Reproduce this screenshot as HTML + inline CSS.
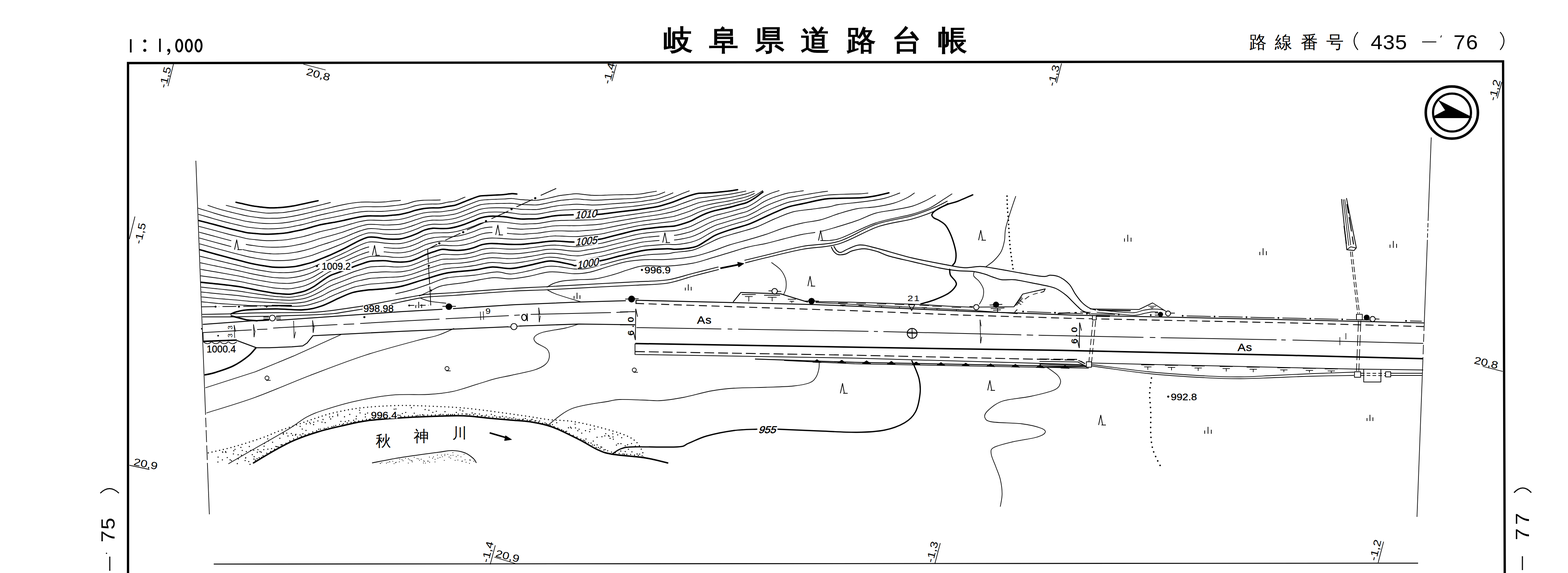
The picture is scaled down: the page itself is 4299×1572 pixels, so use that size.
<!DOCTYPE html>
<html><head><meta charset="utf-8"><title>map</title>
<style>html,body{margin:0;padding:0;background:#fff}svg{display:block}text{font-family:"Liberation Sans",sans-serif;fill:#000}</style>
</head><body>
<svg width="4299" height="1572" viewBox="0 0 4299 1572">
<rect width="4299" height="1572" fill="#fff"/>
<path d="M351.0 1580.0L351.0 173.0L4121.0 168.4L4125.6 1580.0" fill="none" stroke="#000" stroke-width="6.3" stroke-linejoin="miter"/>
<path d="M586.0 1547.5L3888.0 1545.0" fill="none" stroke="#000" stroke-width="2.6" stroke-linejoin="round"/>
<path d="M537.0 441.0L563.6 1138.0" fill="none" stroke="#000" stroke-width="1.8" stroke-linejoin="round"/>
<path d="M563.9 1146.0L564.9 1172.0" fill="none" stroke="#000" stroke-width="1.8" stroke-linejoin="round"/>
<path d="M565.2 1180.0L566.4 1213.0" fill="none" stroke="#000" stroke-width="1.8" stroke-linejoin="round"/>
<path d="M566.8 1222.0L568.3 1262.0" fill="none" stroke="#000" stroke-width="1.8" stroke-linejoin="round"/>
<path d="M568.6 1270.0L574.0 1411.0" fill="none" stroke="#000" stroke-width="1.8" stroke-linejoin="round"/>
<path d="M3924.0 377.0L3915.4 606.0" fill="none" stroke="#000" stroke-width="1.8" stroke-linejoin="round"/>
<path d="M3915.2 612.0L3914.7 624.0" fill="none" stroke="#000" stroke-width="1.8" stroke-linejoin="round"/>
<path d="M3914.6 628.0L3914.4 634.0" fill="none" stroke="#000" stroke-width="1.8" stroke-linejoin="round"/>
<path d="M3914.1 640.0L3913.7 652.0" fill="none" stroke="#000" stroke-width="1.8" stroke-linejoin="round"/>
<path d="M3913.5 658.0L3904.1 908.0" fill="none" stroke="#000" stroke-width="1.8" stroke-linejoin="round"/>
<path d="M3903.8 916.0L3903.0 938.0" fill="none" stroke="#000" stroke-width="1.8" stroke-linejoin="round"/>
<path d="M3902.7 946.0L3901.7 972.0" fill="none" stroke="#000" stroke-width="1.8" stroke-linejoin="round"/>
<path d="M3901.4 980.0L3885.0 1418.0" fill="none" stroke="#000" stroke-width="1.8" stroke-linejoin="round"/>
<path d="M358.5 107.5L358.5 144.0" fill="none" stroke="#000" stroke-width="4.6" stroke-linejoin="round"/>
<circle cx="397.0" cy="112.5" r="4.3" fill="#000" stroke="#000" stroke-width="0"/>
<circle cx="397.0" cy="138.0" r="4.3" fill="#000" stroke="#000" stroke-width="0"/>
<path d="M438.5 106.0L438.5 142.5" fill="none" stroke="#000" stroke-width="4.6" stroke-linejoin="round"/>
<circle cx="462.5" cy="138.0" r="4.2" fill="#000" stroke="#000" stroke-width="0"/>
<path d="M465.5 138 Q466 146 459.5 150" fill="none" stroke="#000" stroke-width="3" stroke-linejoin="round"/>
<ellipse cx="491.3" cy="125" rx="8.4" ry="16.3" fill="none" stroke="#000" stroke-width="5"/>
<ellipse cx="517.8" cy="125" rx="8.4" ry="16.3" fill="none" stroke="#000" stroke-width="5"/>
<ellipse cx="544.4" cy="125" rx="8.4" ry="16.3" fill="none" stroke="#000" stroke-width="5"/>
<text transform="translate(1819.0 136.5) scale(1 0.97)" font-family="'Liberation Sans','Noto Sans CJK JP',sans-serif" font-size="80" font-weight="bold" text-anchor="start">岐</text>
<text transform="translate(1944.4 136.5) scale(1 0.97)" font-family="'Liberation Sans','Noto Sans CJK JP',sans-serif" font-size="80" font-weight="bold" text-anchor="start">阜</text>
<text transform="translate(2069.8 136.5) scale(1 0.97)" font-family="'Liberation Sans','Noto Sans CJK JP',sans-serif" font-size="80" font-weight="bold" text-anchor="start">県</text>
<text transform="translate(2195.2 136.5) scale(1 0.97)" font-family="'Liberation Sans','Noto Sans CJK JP',sans-serif" font-size="80" font-weight="bold" text-anchor="start">道</text>
<text transform="translate(2320.6 136.5) scale(1 0.97)" font-family="'Liberation Sans','Noto Sans CJK JP',sans-serif" font-size="80" font-weight="bold" text-anchor="start">路</text>
<text transform="translate(2446.0 136.5) scale(1 0.97)" font-family="'Liberation Sans','Noto Sans CJK JP',sans-serif" font-size="80" font-weight="bold" text-anchor="start">台</text>
<text transform="translate(2571.4 136.5) scale(1 0.97)" font-family="'Liberation Sans','Noto Sans CJK JP',sans-serif" font-size="80" font-weight="bold" text-anchor="start">帳</text>
<text x="3425.0" y="131.5" font-family="'Liberation Sans','Noto Sans CJK JP',sans-serif" font-size="48" font-weight="500" text-anchor="start">路</text>
<text x="3495.3" y="131.5" font-family="'Liberation Sans','Noto Sans CJK JP',sans-serif" font-size="48" font-weight="500" text-anchor="start">線</text>
<text x="3565.6" y="131.5" font-family="'Liberation Sans','Noto Sans CJK JP',sans-serif" font-size="48" font-weight="500" text-anchor="start">番</text>
<text x="3635.9" y="131.5" font-family="'Liberation Sans','Noto Sans CJK JP',sans-serif" font-size="48" font-weight="500" text-anchor="start">号</text>
<path d="M3723 88 Q3702 112 3723 137" fill="none" stroke="#000" stroke-width="2.6" stroke-linejoin="round"/>
<path d="M4113 88 Q4134 112 4113 137" fill="none" stroke="#000" stroke-width="2.6" stroke-linejoin="round"/>
<text transform="translate(3758.0 134.5) scale(1.060 1)" font-family="Liberation Sans" font-size="55.0" font-weight="normal" text-anchor="start" letter-spacing="1">435</text>
<path d="M3899.0 115.0L3938.0 115.0" fill="none" stroke="#000" stroke-width="2.6" stroke-linejoin="round"/>
<path d="M3952.0 97.0L3950.0 103.0" fill="none" stroke="#000" stroke-width="2.2" stroke-linejoin="round"/>
<text transform="translate(3985.0 134.5) scale(1.060 1)" font-family="Liberation Sans" font-size="55.0" font-weight="normal" text-anchor="start" letter-spacing="0">7</text>
<text transform="translate(4019.5 134.5) scale(1.060 1)" font-family="Liberation Sans" font-size="55.0" font-weight="normal" text-anchor="start" letter-spacing="0">6</text>
<circle cx="3980.5" cy="308.8" r="71.5" fill="none" stroke="#000" stroke-width="7"/>
<circle cx="3981.0" cy="308.8" r="52.0" fill="none" stroke="#000" stroke-width="6"/>
<path d="M3930.0 322.5L4033.0 322.5" fill="none" stroke="#000" stroke-width="3.2" stroke-linejoin="round"/>
<path d="M3943.8 275.0L4036.0 321.8L3931.0 322.5L3933.8 317.5L3962.5 302.5Z" fill="#000" stroke="#000" stroke-width="1" stroke-linejoin="round"/>
<text transform="translate(313.5 1488.0) rotate(-90.0) scale(1.130 1)" font-family="Liberation Sans" font-size="52.0" font-weight="normal" text-anchor="start" letter-spacing="0">7</text>
<text transform="translate(313.5 1453.0) rotate(-90.0) scale(1.130 1)" font-family="Liberation Sans" font-size="52.0" font-weight="normal" text-anchor="start" letter-spacing="0">5</text>
<path d="M275 1353 Q300 1328 326 1353" fill="none" stroke="#000" stroke-width="3.0" stroke-linejoin="round"/>
<path d="M301.0 1527.0L301.0 1566.0" fill="none" stroke="#000" stroke-width="3.0" stroke-linejoin="round"/>
<circle cx="292.0" cy="1518.0" r="1.8" fill="#000" stroke="#000" stroke-width="0"/>
<text transform="translate(4192.0 1482.0) rotate(-90.0) scale(1.130 1)" font-family="Liberation Sans" font-size="52.0" font-weight="normal" text-anchor="start" letter-spacing="0">7</text>
<text transform="translate(4192.0 1440.0) rotate(-90.0) scale(1.130 1)" font-family="Liberation Sans" font-size="52.0" font-weight="normal" text-anchor="start" letter-spacing="0">7</text>
<path d="M4151 1351.6 Q4175 1326 4198.4 1351.6" fill="none" stroke="#000" stroke-width="3.0" stroke-linejoin="round"/>
<path d="M4174.0 1526.0L4174.0 1564.0" fill="none" stroke="#000" stroke-width="3.0" stroke-linejoin="round"/>
<path d="M475.6 176.0L460.6 236.4" fill="none" stroke="#000" stroke-width="1.8" stroke-linejoin="round"/>
<text transform="translate(455.0 243.0) rotate(-76.0) scale(1.220 1)" font-family="Liberation Sans" font-size="28.0" font-weight="normal" text-anchor="start" letter-spacing="0">-1,5</text>
<path d="M831.7 176.0L892.8 192.0" fill="none" stroke="#000" stroke-width="1.8" stroke-linejoin="round"/>
<text transform="translate(838.0 205.0) rotate(15.0) scale(1.220 1)" font-family="Liberation Sans" font-size="28.0" font-weight="normal" text-anchor="start" letter-spacing="0">20,8</text>
<path d="M1690.0 177.0L1677.8 222.5" fill="none" stroke="#000" stroke-width="1.8" stroke-linejoin="round"/>
<text transform="translate(1672.0 232.0) rotate(-76.0) scale(1.220 1)" font-family="Liberation Sans" font-size="28.0" font-weight="normal" text-anchor="start" letter-spacing="0">-1,4</text>
<path d="M2910.5 174.0L2896.6 228.0" fill="none" stroke="#000" stroke-width="1.8" stroke-linejoin="round"/>
<text transform="translate(2891.0 238.0) rotate(-76.0) scale(1.220 1)" font-family="Liberation Sans" font-size="28.0" font-weight="normal" text-anchor="start" letter-spacing="0">-1,3</text>
<path d="M4117.5 225.0L4105.0 270.0" fill="none" stroke="#000" stroke-width="1.8" stroke-linejoin="round"/>
<text transform="translate(4100.0 278.0) rotate(-76.0) scale(1.220 1)" font-family="Liberation Sans" font-size="28.0" font-weight="normal" text-anchor="start" letter-spacing="0">-1,2</text>
<path d="M354.5 656.0L370.0 594.0" fill="none" stroke="#000" stroke-width="1.8" stroke-linejoin="round"/>
<text transform="translate(387.0 671.0) rotate(-77.0) scale(1.220 1)" font-family="Liberation Sans" font-size="28.0" font-weight="normal" text-anchor="start" letter-spacing="0">-1,5</text>
<path d="M355.0 1276.5L409.7 1288.0" fill="none" stroke="#000" stroke-width="1.8" stroke-linejoin="round"/>
<text transform="translate(365.0 1276.0) rotate(11.0) scale(1.220 1)" font-family="Liberation Sans" font-size="28.0" font-weight="normal" text-anchor="start" letter-spacing="0">20,9</text>
<path d="M1358.0 1496.0L1344.0 1548.5" fill="none" stroke="#000" stroke-width="1.8" stroke-linejoin="round"/>
<text transform="translate(1339.0 1545.0) rotate(-76.0) scale(1.220 1)" font-family="Liberation Sans" font-size="28.0" font-weight="normal" text-anchor="start" letter-spacing="0">-1,4</text>
<path d="M1355.5 1528.5L1413.0 1546.0" fill="none" stroke="#000" stroke-width="1.8" stroke-linejoin="round"/>
<text transform="translate(1357.0 1527.0) rotate(14.0) scale(1.220 1)" font-family="Liberation Sans" font-size="28.0" font-weight="normal" text-anchor="start" letter-spacing="0">20,9</text>
<path d="M2578.0 1490.0L2563.0 1547.0" fill="none" stroke="#000" stroke-width="1.8" stroke-linejoin="round"/>
<text transform="translate(2558.0 1545.0) rotate(-76.0) scale(1.220 1)" font-family="Liberation Sans" font-size="28.0" font-weight="normal" text-anchor="start" letter-spacing="0">-1,3</text>
<path d="M3793.5 1486.0L3778.5 1543.5" fill="none" stroke="#000" stroke-width="1.8" stroke-linejoin="round"/>
<text transform="translate(3773.0 1540.0) rotate(-76.0) scale(1.220 1)" font-family="Liberation Sans" font-size="28.0" font-weight="normal" text-anchor="start" letter-spacing="0">-1,2</text>
<path d="M4065.0 1005.0L4120.0 1019.0" fill="none" stroke="#000" stroke-width="1.8" stroke-linejoin="round"/>
<text transform="translate(4040.0 997.0) rotate(13.0) scale(1.220 1)" font-family="Liberation Sans" font-size="28.0" font-weight="normal" text-anchor="start" letter-spacing="0">20,8</text>
<path d="M553.7 828.0C557.4 828.3 568.4 829.5 575.7 830.2C583.1 831.0 590.4 831.8 597.7 832.5C605.1 833.1 612.4 833.5 619.7 833.9C627.1 834.4 634.4 834.9 641.7 835.4C649.1 835.8 656.4 836.4 663.7 836.9C671.1 837.4 678.4 838.0 685.7 838.3C693.1 838.6 700.4 838.5 707.7 838.6C715.1 838.6 722.4 838.7 729.7 838.8C737.1 838.8 744.4 838.8 751.7 839.0C759.1 839.1 766.4 839.5 773.7 839.8C781.1 840.0 788.4 840.4 795.7 840.5C803.1 840.5 810.4 840.7 817.7 840.3C825.1 839.8 832.4 839.2 839.7 837.8C847.1 836.4 854.4 834.2 861.7 832.0C869.1 829.8 876.4 827.7 883.7 824.7C891.1 821.6 898.4 817.3 905.7 813.9C913.1 810.5 920.4 807.4 927.7 804.4C935.1 801.3 942.4 798.3 949.7 795.5C957.1 792.7 964.4 789.6 971.7 787.5C979.1 785.4 986.4 784.3 993.7 783.0C1001.1 781.6 1008.4 780.3 1015.7 779.4C1023.1 778.6 1030.4 778.4 1037.7 777.9C1045.1 777.3 1052.4 776.7 1059.7 776.0C1067.1 775.4 1074.4 775.0 1081.7 774.2C1089.1 773.4 1096.4 772.7 1103.7 771.3C1111.1 769.8 1118.4 767.7 1125.7 765.5C1133.1 763.4 1140.4 760.9 1147.7 758.5C1155.1 756.2 1162.4 753.6 1169.7 751.3C1177.1 749.0 1184.4 746.9 1191.7 744.8C1199.1 742.7 1206.4 740.2 1213.7 738.6C1221.1 737.1 1228.4 736.3 1235.7 735.5C1243.1 734.7 1250.4 734.4 1257.7 733.8C1265.1 733.1 1272.4 732.4 1279.7 731.5C1287.1 730.6 1294.4 729.6 1301.7 728.3C1309.1 727.0 1316.4 725.0 1323.7 723.7C1331.1 722.3 1338.4 720.6 1345.7 720.2C1353.1 719.7 1360.4 720.5 1367.7 720.9C1375.1 721.4 1382.4 722.5 1389.7 722.7C1397.1 722.8 1404.4 722.5 1411.7 721.9C1419.1 721.2 1426.4 719.8 1433.7 718.7C1441.1 717.5 1448.4 716.3 1455.7 714.9C1463.1 713.6 1470.4 712.0 1477.7 710.5C1485.1 709.0 1492.4 706.7 1499.7 705.9C1507.1 705.2 1514.4 705.6 1521.7 706.2C1529.1 706.8 1536.4 708.3 1543.7 709.5C1551.1 710.7 1558.4 712.6 1565.7 713.4C1573.1 714.2 1580.4 714.9 1587.7 714.4C1595.1 713.8 1602.4 711.6 1609.7 710.3C1617.1 708.9 1624.4 707.6 1631.7 706.2C1639.1 704.8 1646.4 703.6 1653.7 701.9C1661.1 700.3 1668.4 698.2 1675.7 696.3C1683.1 694.4 1690.4 692.5 1697.7 690.7C1705.1 688.9 1712.4 687.2 1719.7 685.5C1727.1 683.8 1734.4 682.0 1741.7 680.4C1749.1 678.7 1756.4 676.8 1763.7 675.6C1771.1 674.5 1778.4 674.1 1785.7 673.5C1793.1 672.9 1800.4 672.3 1807.7 671.8C1815.1 671.3 1822.4 670.5 1829.7 670.4C1837.1 670.2 1844.4 671.3 1851.7 671.0C1859.1 670.7 1866.4 669.5 1873.7 668.4C1881.1 667.2 1888.4 666.3 1895.7 664.2C1903.1 662.1 1910.4 659.5 1917.7 656.0C1925.1 652.6 1932.4 647.6 1939.7 643.5C1947.1 639.4 1954.4 634.8 1961.7 631.6C1969.1 628.4 1976.4 626.6 1983.7 624.1C1991.1 621.7 1998.4 619.2 2005.7 616.9C2013.1 614.6 2020.4 612.6 2027.7 610.4C2035.1 608.2 2042.4 606.7 2049.7 603.9C2057.1 601.1 2064.4 597.2 2071.7 593.7C2079.1 590.1 2086.4 586.0 2093.7 582.5C2101.1 579.0 2108.4 575.6 2115.7 572.5C2123.1 569.3 2130.4 566.4 2137.7 563.6C2145.1 560.8 2152.4 557.7 2159.7 555.5C2167.1 553.4 2174.4 552.3 2181.7 550.8C2189.1 549.3 2196.4 547.9 2203.7 546.5C2211.1 545.1 2218.4 543.7 2225.7 542.4C2233.1 541.0 2240.4 539.5 2247.7 538.2C2255.1 537.0 2262.4 535.8 2269.7 535.1C2277.1 534.3 2284.4 534.1 2291.7 533.7C2299.1 533.3 2306.4 533.1 2313.7 532.9C2321.1 532.6 2328.4 532.5 2335.7 532.3C2343.1 532.2 2350.4 532.2 2357.7 531.8C2365.1 531.4 2376.1 530.1 2379.7 529.7" fill="none" stroke="#000" stroke-width="1.9" stroke-linecap="round" stroke-linejoin="round"/>
<path d="M553.2 814.6C556.9 815.0 567.9 816.1 575.2 816.9C582.6 817.6 589.9 818.4 597.2 819.1C604.6 819.8 611.9 820.3 619.2 820.9C626.6 821.4 633.9 822.0 641.2 822.6C648.6 823.2 655.9 823.9 663.2 824.6C670.6 825.2 677.9 826.1 685.2 826.7C692.6 827.3 699.9 827.6 707.2 828.0C714.6 828.4 721.9 828.8 729.2 829.2C736.6 829.5 743.9 829.9 751.2 830.3C758.6 830.7 765.9 831.1 773.2 831.4C780.6 831.7 787.9 832.1 795.2 832.1C802.6 832.0 809.9 831.8 817.2 831.0C824.6 830.3 831.9 829.4 839.2 827.7C846.6 825.9 853.9 823.2 861.2 820.5C868.6 817.8 875.9 814.8 883.2 811.3C890.6 807.8 897.9 803.0 905.2 799.6C912.6 796.1 919.9 793.4 927.2 790.4C934.6 787.4 941.9 784.5 949.2 781.7C956.6 778.9 963.9 775.7 971.2 773.4C978.6 771.2 985.9 769.8 993.2 768.2C1000.6 766.5 1007.9 764.7 1015.2 763.7C1022.6 762.8 1029.9 762.7 1037.2 762.3C1044.6 761.8 1051.9 761.3 1059.2 761.0C1066.6 760.6 1073.9 760.7 1081.2 760.3C1088.6 759.8 1095.9 759.4 1103.2 758.2C1110.6 757.1 1117.9 755.4 1125.2 753.4C1132.6 751.3 1139.9 748.6 1147.2 746.0C1154.6 743.5 1161.9 740.5 1169.2 738.0C1176.6 735.6 1183.9 733.4 1191.2 731.3C1198.6 729.1 1205.9 726.4 1213.2 725.1C1220.6 723.7 1227.9 723.7 1235.2 723.2C1242.6 722.7 1249.9 722.6 1257.2 722.1C1264.6 721.5 1271.9 720.8 1279.2 719.8C1286.6 718.8 1293.9 717.5 1301.2 716.0C1308.6 714.4 1315.9 712.0 1323.2 710.5C1330.6 709.0 1337.9 707.6 1345.2 707.2C1352.6 706.7 1359.9 707.4 1367.2 707.8C1374.6 708.2 1381.9 709.3 1389.2 709.5C1396.6 709.7 1403.9 709.6 1411.2 709.1C1418.6 708.6 1425.9 707.6 1433.2 706.6C1440.6 705.7 1447.9 704.5 1455.2 703.3C1462.6 702.1 1469.9 700.7 1477.2 699.4C1484.6 698.0 1491.9 695.9 1499.2 695.2C1506.6 694.5 1513.9 694.6 1521.2 695.0C1528.6 695.4 1535.9 696.6 1543.2 697.6C1550.6 698.6 1557.9 700.3 1565.2 701.0C1572.6 701.6 1579.9 702.3 1587.2 701.8C1594.6 701.3 1601.9 699.3 1609.2 698.0C1616.6 696.7 1623.9 695.5 1631.2 694.2C1638.6 692.9 1645.9 691.7 1653.2 690.1C1660.6 688.5 1667.9 686.4 1675.2 684.5C1682.6 682.6 1689.9 680.7 1697.2 678.9C1704.6 677.1 1711.9 675.4 1719.2 673.6C1726.6 671.9 1733.9 670.0 1741.2 668.4C1748.6 666.8 1755.9 665.0 1763.2 663.9C1770.6 662.8 1777.9 662.3 1785.2 661.6C1792.6 660.9 1799.9 660.3 1807.2 659.8C1814.6 659.2 1821.9 658.4 1829.2 658.2C1836.6 657.9 1843.9 658.8 1851.2 658.2C1858.6 657.6 1865.9 656.2 1873.2 654.8C1880.6 653.3 1887.9 652.0 1895.2 649.7C1902.6 647.3 1909.9 644.2 1917.2 640.7C1924.6 637.3 1931.9 632.7 1939.2 628.9C1946.6 625.2 1953.9 621.2 1961.2 618.3C1968.6 615.4 1975.9 613.6 1983.2 611.4C1990.6 609.1 1997.9 606.9 2005.2 604.7C2012.6 602.5 2019.9 600.4 2027.2 598.2C2034.6 596.1 2041.9 594.7 2049.2 591.8C2056.6 588.9 2063.9 584.9 2071.2 581.0C2078.6 577.1 2085.9 572.2 2093.2 568.4C2100.6 564.7 2107.9 561.4 2115.2 558.4C2122.6 555.3 2129.9 552.6 2137.2 550.1C2144.6 547.5 2151.9 544.7 2159.2 542.8C2166.6 540.9 2173.9 540.0 2181.2 538.7C2188.6 537.3 2195.9 536.1 2203.2 534.9C2210.6 533.6 2217.9 532.4 2225.2 531.2C2232.6 530.0 2239.9 528.7 2247.2 527.6C2254.6 526.5 2265.6 525.1 2269.2 524.6" fill="none" stroke="#000" stroke-width="1.9" stroke-linecap="round" stroke-linejoin="round"/>
<path d="M552.7 801.2C556.4 801.6 567.4 802.7 574.7 803.5C582.1 804.2 589.4 805.0 596.7 805.8C604.1 806.5 611.4 807.1 618.7 807.8C626.1 808.4 633.4 809.1 640.7 809.8C648.1 810.5 655.4 811.3 662.7 812.2C670.1 813.1 677.4 814.2 684.7 815.1C692.1 816.0 699.4 816.7 706.7 817.4C714.1 818.2 721.4 818.8 728.7 819.5C736.1 820.2 743.4 821.0 750.7 821.6C758.1 822.2 765.4 822.6 772.7 823.0C780.1 823.3 787.4 823.9 794.7 823.7C802.1 823.6 809.4 822.8 816.7 821.8C824.1 820.8 831.4 819.7 838.7 817.6C846.1 815.5 853.4 812.4 860.7 809.1C868.1 805.9 875.4 801.9 882.7 797.9C890.1 793.9 897.4 788.8 904.7 785.3C912.1 781.7 919.4 779.3 926.7 776.4C934.1 773.5 941.4 770.7 948.7 767.9C956.1 765.0 963.4 761.9 970.7 759.4C978.1 757.0 985.4 755.3 992.7 753.4C1000.1 751.5 1007.4 749.2 1014.7 748.1C1022.1 747.0 1029.4 747.1 1036.7 746.7C1044.1 746.3 1051.4 745.9 1058.7 745.8C1066.1 745.8 1073.4 746.5 1080.7 746.4C1088.1 746.3 1095.4 746.1 1102.7 745.2C1110.1 744.3 1117.4 743.1 1124.7 741.2C1132.1 739.2 1139.4 736.3 1146.7 733.5C1154.1 730.8 1161.4 727.4 1168.7 724.8C1176.1 722.1 1183.4 719.9 1190.7 717.7C1198.1 715.5 1205.4 712.6 1212.7 711.4C1220.1 710.3 1227.4 711.0 1234.7 710.8C1242.1 710.7 1249.4 710.8 1256.7 710.4C1264.1 709.9 1271.4 709.3 1278.7 708.2C1286.1 707.1 1293.4 705.5 1300.7 703.7C1308.1 701.9 1315.4 698.9 1322.7 697.4C1330.1 695.8 1337.4 694.6 1344.7 694.2C1352.1 693.7 1359.4 694.4 1366.7 694.7C1374.1 695.1 1381.4 696.1 1388.7 696.3C1396.1 696.6 1403.4 696.6 1410.7 696.3C1418.1 696.0 1425.4 695.3 1432.7 694.5C1440.1 693.8 1447.4 692.6 1454.7 691.6C1462.1 690.5 1469.4 689.4 1476.7 688.2C1484.1 687.1 1491.4 685.2 1498.7 684.5C1506.1 683.7 1513.4 683.5 1520.7 683.8C1528.1 684.0 1535.4 685.0 1542.7 685.8C1550.1 686.6 1557.4 688.0 1564.7 688.5C1572.1 689.1 1579.4 689.6 1586.7 689.2C1594.1 688.7 1601.4 686.8 1608.7 685.7C1616.1 684.5 1623.4 683.5 1630.7 682.2C1638.1 681.0 1645.4 679.9 1652.7 678.3C1660.1 676.8 1667.4 674.6 1674.7 672.7C1682.1 670.9 1689.4 669.0 1696.7 667.1C1704.1 665.3 1711.4 663.6 1718.7 661.8C1726.1 660.0 1733.4 658.1 1740.7 656.5C1748.1 654.9 1755.4 653.3 1762.7 652.2C1770.1 651.0 1777.4 650.4 1784.7 649.7C1792.1 649.0 1799.4 648.3 1806.7 647.7C1814.1 647.1 1821.4 646.4 1828.7 646.0C1836.1 645.7 1843.4 646.3 1850.7 645.5C1858.1 644.6 1865.4 642.9 1872.7 641.2C1880.1 639.5 1887.4 637.8 1894.7 635.2C1902.1 632.6 1909.4 629.0 1916.7 625.5C1924.1 622.0 1931.4 617.7 1938.7 614.3C1946.1 610.9 1953.4 607.5 1960.7 604.9C1968.1 602.3 1975.4 600.7 1982.7 598.6C1990.1 596.6 1997.4 594.5 2004.7 592.4C2012.1 590.4 2019.4 588.2 2026.7 586.1C2034.1 584.0 2041.4 582.7 2048.7 579.8C2056.1 576.8 2063.4 572.6 2070.7 568.4C2078.1 564.1 2085.4 558.5 2092.7 554.4C2100.1 550.4 2107.4 547.2 2114.7 544.2C2122.1 541.2 2129.4 538.9 2136.7 536.5C2144.1 534.1 2151.4 531.7 2158.7 530.0C2166.1 528.3 2173.4 527.6 2180.7 526.5C2188.1 525.3 2199.1 523.8 2202.7 523.2" fill="none" stroke="#000" stroke-width="1.9" stroke-linecap="round" stroke-linejoin="round"/>
<path d="M552.2 787.8C555.9 788.2 566.9 789.4 574.2 790.1C581.6 790.9 588.9 791.6 596.2 792.4C603.6 793.1 610.9 793.9 618.2 794.7C625.6 795.4 632.9 796.1 640.2 797.0C647.6 797.8 654.9 798.7 662.2 799.8C669.6 800.9 676.9 802.3 684.2 803.4C691.6 804.6 698.9 805.7 706.2 806.8C713.6 807.9 720.9 808.8 728.2 809.8C735.6 810.8 742.9 812.1 750.2 812.8C757.6 813.6 764.9 814.1 772.2 814.5C779.6 815.0 786.9 815.8 794.2 815.5C801.6 815.1 808.9 813.9 816.2 812.6C823.6 811.3 830.9 810.0 838.2 807.6C845.6 805.1 852.9 801.7 860.2 797.9C867.6 794.0 874.9 789.1 882.2 784.6C889.6 780.2 896.9 774.7 904.2 771.0C911.6 767.3 918.9 765.3 926.2 762.4C933.6 759.6 940.9 756.9 948.2 754.1C955.6 751.2 962.9 748.1 970.2 745.5C977.6 742.9 984.9 740.8 992.2 738.6C999.6 736.4 1006.9 733.8 1014.2 732.5C1021.6 731.3 1028.9 731.4 1036.2 731.1C1043.6 730.8 1050.9 730.4 1058.2 730.6C1065.6 730.8 1072.9 732.1 1080.2 732.4C1087.6 732.6 1094.9 732.7 1102.2 732.1C1109.6 731.5 1116.9 730.8 1124.2 728.9C1131.6 727.1 1138.9 724.0 1146.2 721.1C1153.6 718.2 1160.9 714.4 1168.2 711.6C1175.6 708.8 1182.9 706.5 1190.2 704.2C1197.6 701.9 1204.9 698.7 1212.2 697.7C1219.6 696.8 1226.9 698.3 1234.2 698.4C1241.6 698.6 1248.9 699.0 1256.2 698.7C1263.6 698.3 1270.9 697.7 1278.2 696.5C1285.6 695.3 1292.9 693.5 1300.2 691.5C1307.6 689.5 1314.9 686.0 1322.2 684.3C1329.6 682.5 1336.9 681.6 1344.2 681.2C1351.6 680.7 1358.9 681.3 1366.2 681.6C1373.6 682.0 1380.9 682.9 1388.2 683.2C1395.6 683.5 1402.9 683.6 1410.2 683.5C1417.6 683.4 1424.9 683.0 1432.2 682.4C1439.6 681.8 1446.9 680.8 1454.2 679.9C1461.6 679.0 1468.9 678.1 1476.2 677.1C1483.6 676.1 1490.9 674.5 1498.2 673.7C1505.6 673.0 1512.9 672.5 1520.2 672.5C1527.6 672.6 1534.9 673.3 1542.2 674.0C1549.6 674.6 1556.9 675.7 1564.2 676.1C1571.6 676.6 1578.9 677.0 1586.2 676.5C1593.6 676.1 1600.9 674.4 1608.2 673.4C1615.6 672.3 1622.9 671.4 1630.2 670.2C1637.6 669.1 1644.9 668.1 1652.2 666.6C1659.6 665.0 1666.9 662.8 1674.2 661.0C1681.6 659.1 1688.9 657.2 1696.2 655.4C1703.6 653.5 1710.9 651.7 1718.2 649.9C1725.6 648.1 1732.9 646.1 1740.2 644.5C1747.6 642.9 1754.9 641.5 1762.2 640.4C1769.6 639.3 1776.9 638.6 1784.2 637.8C1791.6 637.0 1798.9 636.3 1806.2 635.6C1813.6 635.0 1820.9 634.4 1828.2 633.9C1835.6 633.4 1842.9 633.8 1850.2 632.7C1857.6 631.7 1864.9 629.6 1872.2 627.6C1879.6 625.6 1886.9 623.7 1894.2 620.8C1901.6 617.9 1908.9 613.7 1916.2 610.2C1923.6 606.7 1930.9 602.8 1938.2 599.6C1945.6 596.5 1952.9 593.7 1960.2 591.4C1967.6 589.1 1974.9 587.7 1982.2 585.8C1989.6 584.0 1996.9 582.2 2004.2 580.2C2011.6 578.2 2018.9 576.0 2026.2 574.0C2033.6 571.9 2040.9 570.7 2048.2 567.7C2055.6 564.7 2062.9 560.3 2070.2 555.7C2077.6 551.2 2084.9 544.8 2092.2 540.5C2099.6 536.2 2106.9 533.0 2114.2 530.1C2121.6 527.1 2132.6 524.1 2136.2 522.9" fill="none" stroke="#000" stroke-width="1.9" stroke-linecap="round" stroke-linejoin="round"/>
<path d="M551.7 774.5C555.4 774.8 566.4 776.0 573.7 776.8C581.0 777.5 588.4 778.2 595.7 779.0C603.0 779.8 610.4 780.7 617.7 781.5C625.0 782.4 632.4 783.2 639.7 784.2C647.0 785.1 654.4 786.1 661.7 787.3C669.0 788.6 676.4 790.3 683.7 791.7C691.0 793.2 698.4 794.7 705.7 796.1C713.0 797.5 720.4 798.8 727.7 800.1C735.0 801.4 742.4 803.0 749.7 804.0C757.0 805.1 764.4 805.6 771.7 806.1C779.0 806.7 786.4 807.7 793.7 807.2C801.0 806.8 808.4 805.0 815.7 803.4C823.0 801.8 830.4 800.4 837.7 797.6C845.0 794.8 852.4 791.1 859.7 786.7C867.0 782.3 874.4 776.3 881.7 771.4C889.0 766.4 896.4 760.7 903.7 756.9C911.0 753.0 918.4 751.2 925.7 748.4C933.0 745.7 940.4 743.1 947.7 740.2C955.0 737.4 962.4 734.3 969.7 731.6C977.0 728.8 984.4 726.3 991.7 723.9C999.0 721.4 1006.4 718.4 1013.7 717.0C1021.0 715.6 1028.4 715.8 1035.7 715.5C1043.0 715.2 1050.4 714.9 1057.7 715.4C1065.0 715.8 1072.4 717.7 1079.7 718.3C1087.0 718.9 1094.4 719.3 1101.7 719.0C1109.0 718.7 1116.4 718.4 1123.7 716.7C1131.0 714.9 1138.4 711.7 1145.7 708.7C1153.0 705.6 1160.4 701.4 1167.7 698.4C1175.0 695.4 1182.4 693.0 1189.7 690.6C1197.0 688.2 1204.4 684.9 1211.7 684.1C1219.0 683.3 1226.4 685.5 1233.7 686.0C1241.0 686.5 1248.4 687.1 1255.7 687.0C1263.0 686.8 1270.4 686.2 1277.7 684.9C1285.0 683.6 1292.4 681.6 1299.7 679.3C1307.0 677.0 1314.4 673.1 1321.7 671.2C1329.0 669.3 1336.4 668.6 1343.7 668.1C1351.0 667.7 1358.4 668.2 1365.7 668.6C1373.0 668.9 1380.4 669.7 1387.7 670.0C1395.0 670.4 1402.4 670.5 1409.7 670.6C1417.0 670.6 1424.4 670.7 1431.7 670.3C1439.0 669.9 1446.4 668.9 1453.7 668.1C1461.0 667.4 1468.4 666.8 1475.7 665.9C1483.0 665.0 1490.4 663.7 1497.7 662.9C1505.0 662.2 1512.4 661.4 1519.7 661.3C1527.0 661.2 1534.4 661.8 1541.7 662.2C1549.0 662.6 1556.4 663.5 1563.7 663.8C1571.0 664.1 1578.4 664.3 1585.7 663.9C1593.0 663.4 1600.4 662.0 1607.7 661.1C1615.0 660.1 1622.4 659.3 1629.7 658.2C1637.0 657.2 1644.4 656.3 1651.7 654.8C1659.0 653.3 1666.4 651.1 1673.7 649.2C1681.0 647.3 1688.4 645.4 1695.7 643.6C1703.0 641.7 1710.4 639.9 1717.7 638.1C1725.0 636.2 1732.4 634.2 1739.7 632.6C1747.0 631.0 1754.4 629.7 1761.7 628.6C1769.0 627.5 1776.4 626.8 1783.7 626.0C1791.0 625.1 1798.4 624.2 1805.7 623.5C1813.0 622.8 1820.4 622.4 1827.7 621.8C1835.0 621.2 1842.4 621.3 1849.7 620.0C1857.0 618.7 1864.4 616.4 1871.7 614.1C1879.0 611.9 1886.4 609.7 1893.7 606.5C1901.0 603.3 1908.4 598.5 1915.7 594.9C1923.0 591.3 1930.4 587.8 1937.7 584.9C1945.0 582.1 1952.4 579.8 1959.7 577.9C1967.0 575.9 1974.4 574.7 1981.7 573.0C1989.0 571.4 1996.4 569.8 2003.7 568.0C2011.0 566.1 2018.4 563.9 2025.7 561.8C2033.0 559.7 2040.4 558.7 2047.7 555.6C2055.0 552.5 2062.4 548.0 2069.7 543.2C2077.0 538.3 2088.0 529.4 2091.7 526.6" fill="none" stroke="#000" stroke-width="3.9" stroke-linecap="round" stroke-linejoin="round"/>
<path d="M551.0 756.7C554.7 757.2 565.7 758.7 573.0 759.8C580.4 760.8 587.7 761.8 595.0 762.8C602.4 763.8 609.7 764.9 617.0 766.0C624.4 767.1 631.7 768.1 639.0 769.3C646.4 770.4 653.7 771.5 661.0 772.9C668.4 774.3 675.7 776.1 683.0 777.6C690.4 779.1 697.7 780.6 705.0 782.0C712.4 783.4 719.7 784.7 727.0 785.9C734.4 787.2 741.7 788.8 749.0 789.7C756.4 790.6 763.7 791.1 771.0 791.6C778.4 792.0 785.7 792.8 793.0 792.4C800.4 791.9 807.7 790.4 815.0 788.9C822.4 787.4 829.7 785.9 837.0 783.3C844.4 780.7 851.7 777.4 859.0 773.4C866.4 769.4 873.7 763.9 881.0 759.4C888.4 754.8 895.7 749.7 903.0 746.0C910.4 742.3 917.7 740.0 925.0 737.1C932.4 734.2 939.7 731.4 947.0 728.4C954.4 725.4 961.7 722.1 969.0 719.1C976.4 716.2 983.7 713.3 991.0 710.7C998.4 708.2 1005.7 705.2 1013.0 703.9C1020.4 702.6 1027.7 702.9 1035.0 702.8C1042.4 702.6 1049.7 702.7 1057.0 703.2C1064.4 703.8 1071.7 705.4 1079.0 705.9C1086.4 706.3 1093.7 706.6 1101.0 706.2C1108.4 705.7 1115.7 705.0 1123.0 703.2C1130.4 701.3 1137.7 698.2 1145.0 695.2C1152.4 692.1 1159.7 687.8 1167.0 684.9C1174.4 682.0 1181.7 680.0 1189.0 677.9C1196.4 675.9 1203.7 673.5 1211.0 672.8C1218.4 672.2 1225.7 673.7 1233.0 673.9C1240.4 674.1 1247.7 674.4 1255.0 673.9C1262.4 673.4 1269.7 672.3 1277.0 670.8C1284.4 669.2 1291.7 667.1 1299.0 664.7C1306.4 662.3 1313.7 658.4 1321.0 656.5C1328.4 654.6 1335.7 653.7 1343.0 653.2C1350.4 652.7 1357.7 653.2 1365.0 653.5C1372.4 653.8 1379.7 654.6 1387.0 655.0C1394.4 655.4 1401.7 655.9 1409.0 656.2C1416.4 656.4 1423.7 656.7 1431.0 656.5C1438.4 656.2 1445.7 655.3 1453.0 654.6C1460.4 654.0 1467.7 653.6 1475.0 652.8C1482.4 652.0 1489.7 650.5 1497.0 649.6C1504.4 648.7 1511.7 647.7 1519.0 647.4C1526.4 647.1 1533.7 647.6 1541.0 647.8C1548.4 648.0 1555.7 648.7 1563.0 648.9C1570.4 649.1 1577.7 649.3 1585.0 649.0C1592.4 648.6 1599.7 647.5 1607.0 646.7C1614.4 646.0 1621.7 645.3 1629.0 644.4C1636.4 643.6 1643.7 642.8 1651.0 641.4C1658.4 640.1 1665.7 638.0 1673.0 636.4C1680.4 634.7 1687.7 633.0 1695.0 631.3C1702.4 629.7 1709.7 628.0 1717.0 626.4C1724.4 624.8 1731.7 623.0 1739.0 621.5C1746.4 620.0 1753.7 618.7 1761.0 617.6C1768.4 616.5 1775.7 615.8 1783.0 614.8C1790.4 613.9 1797.7 613.0 1805.0 612.1C1812.4 611.2 1819.7 610.4 1827.0 609.5C1834.4 608.6 1841.7 608.2 1849.0 606.6C1856.4 605.1 1863.7 602.6 1871.0 600.3C1878.4 597.9 1885.7 595.7 1893.0 592.7C1900.4 589.7 1907.7 585.4 1915.0 582.3C1922.4 579.2 1929.7 576.5 1937.0 574.1C1944.4 571.7 1951.7 569.8 1959.0 568.0C1966.4 566.3 1973.7 565.2 1981.0 563.7C1988.4 562.2 1995.7 560.9 2003.0 559.2C2010.4 557.5 2017.7 555.5 2025.0 553.6C2032.4 551.7 2039.7 550.5 2047.0 547.8C2054.4 545.0 2061.7 541.2 2069.0 537.1C2076.4 533.0 2087.4 525.4 2091.0 523.1" fill="none" stroke="#000" stroke-width="1.9" stroke-linecap="round" stroke-linejoin="round"/>
<path d="M550.4 738.9C554.0 739.5 565.0 741.5 572.4 742.7C579.7 744.0 587.0 745.3 594.4 746.5C601.7 747.8 609.0 749.1 616.4 750.4C623.7 751.7 631.0 753.0 638.4 754.4C645.7 755.7 653.0 757.0 660.4 758.5C667.7 760.0 675.0 761.9 682.4 763.4C689.7 765.0 697.0 766.5 704.4 767.9C711.7 769.3 719.0 770.6 726.4 771.8C733.7 773.1 741.0 774.5 748.4 775.4C755.7 776.3 763.0 776.7 770.4 777.1C777.7 777.4 785.0 778.0 792.4 777.5C799.7 777.1 807.0 775.8 814.4 774.3C821.7 772.9 829.0 771.3 836.4 768.9C843.7 766.5 851.0 763.7 858.4 760.1C865.7 756.4 873.0 751.5 880.4 747.3C887.7 743.1 895.0 738.7 902.4 735.1C909.7 731.5 917.0 728.8 924.4 725.7C931.7 722.7 939.0 719.8 946.4 716.6C953.7 713.5 961.0 709.9 968.4 706.7C975.7 703.6 983.0 700.3 990.4 697.7C997.7 695.0 1005.0 692.0 1012.4 690.7C1019.7 689.4 1027.0 689.9 1034.4 689.9C1041.7 690.0 1049.0 690.6 1056.4 691.1C1063.7 691.7 1071.0 693.0 1078.4 693.4C1085.7 693.8 1093.0 694.0 1100.4 693.4C1107.7 692.8 1115.0 691.6 1122.4 689.7C1129.7 687.7 1137.0 684.7 1144.4 681.7C1151.7 678.7 1159.0 674.2 1166.4 671.4C1173.7 668.7 1181.0 666.8 1188.4 665.2C1195.7 663.5 1203.0 662.1 1210.4 661.5C1217.7 661.0 1225.0 662.0 1232.4 661.9C1239.7 661.8 1247.0 661.7 1254.4 660.9C1261.7 660.0 1269.0 658.5 1276.4 656.7C1283.7 654.9 1291.0 652.6 1298.4 650.1C1305.7 647.7 1313.0 643.7 1320.4 641.8C1327.7 639.8 1335.0 638.8 1342.4 638.3C1349.7 637.7 1357.0 638.2 1364.4 638.5C1371.7 638.8 1379.0 639.4 1386.4 640.0C1393.7 640.5 1401.0 641.2 1408.4 641.7C1415.7 642.1 1423.0 642.7 1430.4 642.6C1437.7 642.5 1445.0 641.6 1452.4 641.1C1459.7 640.6 1467.0 640.4 1474.4 639.6C1481.7 638.8 1489.0 637.3 1496.4 636.3C1503.7 635.3 1511.0 634.1 1518.4 633.6C1525.7 633.1 1533.0 633.4 1540.4 633.4C1547.7 633.5 1555.0 633.9 1562.4 634.0C1569.7 634.1 1577.0 634.3 1584.4 634.0C1591.7 633.8 1599.0 632.9 1606.4 632.3C1613.7 631.8 1621.0 631.4 1628.4 630.6C1635.7 629.9 1643.0 629.2 1650.4 628.0C1657.7 626.8 1665.0 625.0 1672.4 623.5C1679.7 622.0 1687.0 620.5 1694.4 619.0C1701.7 617.6 1709.0 616.1 1716.4 614.7C1723.7 613.2 1731.0 611.7 1738.4 610.4C1745.7 609.0 1753.0 607.7 1760.4 606.6C1767.7 605.5 1775.0 604.7 1782.4 603.7C1789.7 602.7 1797.0 601.8 1804.4 600.7C1811.7 599.6 1819.0 598.5 1826.4 597.3C1833.7 596.0 1841.0 595.1 1848.4 593.3C1855.7 591.5 1863.0 588.8 1870.4 586.4C1877.7 584.0 1885.0 581.6 1892.4 578.8C1899.7 576.0 1907.0 572.2 1914.4 569.6C1921.7 567.0 1929.0 565.0 1936.4 563.1C1943.7 561.2 1951.0 559.6 1958.4 558.2C1965.7 556.7 1973.0 555.7 1980.4 554.4C1987.7 553.1 1995.0 552.0 2002.4 550.5C2009.7 548.9 2017.0 547.1 2024.4 545.3C2031.7 543.6 2039.0 542.3 2046.4 539.9C2053.7 537.5 2064.7 532.4 2068.4 530.9" fill="none" stroke="#000" stroke-width="1.9" stroke-linecap="round" stroke-linejoin="round"/>
<path d="M549.7 721.0C553.4 721.8 564.4 724.1 571.7 725.6C579.0 727.2 586.4 728.7 593.7 730.2C601.0 731.7 608.4 733.2 615.7 734.8C623.0 736.3 630.4 737.8 637.7 739.4C645.0 740.9 652.4 742.4 659.7 744.1C667.0 745.7 674.4 747.6 681.7 749.2C689.0 750.9 696.4 752.4 703.7 753.8C711.0 755.2 718.4 756.5 725.7 757.7C733.0 758.9 740.4 760.3 747.7 761.1C755.0 761.9 762.4 762.3 769.7 762.5C777.0 762.8 784.4 763.1 791.7 762.6C799.0 762.2 806.4 761.1 813.7 759.8C821.0 758.4 828.4 756.7 835.7 754.5C843.0 752.3 850.4 749.8 857.7 746.6C865.0 743.4 872.4 738.9 879.7 735.2C887.0 731.4 894.4 727.5 901.7 724.1C909.0 720.6 916.4 717.6 923.7 714.4C931.0 711.2 938.4 708.2 945.7 704.9C953.0 701.6 960.4 697.8 967.7 694.4C975.0 691.0 982.4 687.4 989.7 684.6C997.0 681.8 1004.4 678.7 1011.7 677.5C1019.0 676.2 1026.4 676.8 1033.7 677.1C1041.0 677.4 1048.4 678.4 1055.7 679.1C1063.0 679.7 1070.4 680.7 1077.7 681.0C1085.0 681.2 1092.4 681.4 1099.7 680.7C1107.0 679.9 1114.4 678.3 1121.7 676.3C1129.0 674.2 1136.4 671.3 1143.7 668.2C1151.0 665.2 1158.4 660.6 1165.7 657.9C1173.0 655.3 1180.4 653.6 1187.7 652.3C1195.0 651.0 1202.4 650.5 1209.7 650.1C1217.0 649.7 1224.4 650.4 1231.7 650.0C1239.0 649.6 1246.4 649.1 1253.7 647.9C1261.0 646.7 1268.4 644.8 1275.7 642.8C1283.0 640.7 1290.4 638.2 1297.7 635.6C1305.0 633.0 1312.4 629.1 1319.7 627.1C1327.0 625.0 1334.4 623.9 1341.7 623.3C1349.0 622.7 1356.4 623.2 1363.7 623.4C1371.0 623.7 1378.4 624.3 1385.7 624.9C1393.0 625.5 1400.4 626.5 1407.7 627.2C1415.0 627.8 1422.4 628.7 1429.7 628.8C1437.0 628.8 1444.4 628.0 1451.7 627.6C1459.0 627.2 1466.4 627.2 1473.7 626.5C1481.0 625.7 1488.4 624.1 1495.7 623.0C1503.0 621.9 1510.4 620.5 1517.7 619.9C1525.0 619.2 1532.4 619.2 1539.7 619.1C1547.0 619.0 1554.4 619.2 1561.7 619.2C1569.0 619.1 1576.4 619.3 1583.7 619.1C1591.0 618.9 1598.4 618.3 1605.7 617.9C1613.0 617.5 1620.4 617.4 1627.7 616.8C1635.0 616.2 1642.4 615.6 1649.7 614.5C1657.0 613.5 1664.4 611.9 1671.7 610.6C1679.0 609.3 1686.4 608.0 1693.7 606.7C1701.0 605.4 1708.4 604.2 1715.7 602.9C1723.0 601.7 1730.4 600.4 1737.7 599.2C1745.0 598.0 1752.4 596.7 1759.7 595.6C1767.0 594.5 1774.4 593.7 1781.7 592.6C1789.0 591.6 1796.4 590.6 1803.7 589.4C1811.0 588.1 1818.4 586.7 1825.7 585.1C1833.0 583.6 1840.4 582.1 1847.7 580.0C1855.0 578.0 1862.4 575.2 1869.7 572.6C1877.0 570.1 1884.4 567.6 1891.7 564.9C1899.0 562.3 1906.4 558.9 1913.7 556.8C1921.0 554.7 1928.4 553.5 1935.7 552.1C1943.0 550.7 1950.4 549.4 1957.7 548.3C1965.0 547.1 1972.4 546.1 1979.7 545.0C1987.0 543.9 1994.4 543.0 2001.7 541.6C2009.0 540.3 2016.4 538.7 2023.7 537.1C2031.0 535.5 2038.4 534.1 2045.7 532.0C2053.0 529.9 2064.0 525.9 2067.7 524.6" fill="none" stroke="#000" stroke-width="1.9" stroke-linecap="round" stroke-linejoin="round"/>
<path d="M549.0 703.2C552.7 704.0 563.7 706.7 571.0 708.5C578.3 710.3 585.7 712.1 593.0 713.9C600.3 715.6 607.7 717.3 615.0 719.1C622.3 720.9 629.7 722.6 637.0 724.4C644.3 726.1 651.7 727.8 659.0 729.6C666.3 731.4 673.7 733.4 681.0 735.1C688.3 736.7 695.7 738.3 703.0 739.7C710.3 741.2 717.7 742.4 725.0 743.5C732.3 744.7 739.7 746.1 747.0 746.9C754.3 747.6 761.7 747.9 769.0 748.0C776.3 748.2 783.7 748.2 791.0 747.7C798.3 747.3 805.7 746.5 813.0 745.2C820.3 743.9 827.7 742.0 835.0 740.0C842.3 738.0 849.7 735.9 857.0 733.1C864.3 730.2 871.7 726.3 879.0 723.0C886.3 719.6 893.7 716.3 901.0 713.0C908.3 709.7 915.7 706.5 923.0 703.2C930.3 699.9 937.7 696.7 945.0 693.2C952.3 689.7 959.7 685.7 967.0 682.1C974.3 678.5 981.7 674.6 989.0 671.6C996.3 668.6 1003.7 665.4 1011.0 664.1C1018.3 662.9 1025.7 663.7 1033.0 664.2C1040.3 664.7 1047.7 666.3 1055.0 667.0C1062.3 667.7 1069.7 668.4 1077.0 668.5C1084.3 668.7 1091.7 668.9 1099.0 668.0C1106.3 667.0 1113.7 665.1 1121.0 662.9C1128.3 660.7 1135.7 657.8 1143.0 654.7C1150.3 651.7 1157.7 647.0 1165.0 644.5C1172.3 641.9 1179.7 640.4 1187.0 639.4C1194.3 638.4 1201.7 638.8 1209.0 638.6C1216.3 638.4 1223.7 638.8 1231.0 638.2C1238.3 637.6 1245.7 636.4 1253.0 634.9C1260.3 633.4 1267.7 631.2 1275.0 628.9C1282.3 626.6 1289.7 623.8 1297.0 621.0C1304.3 618.2 1311.7 614.5 1319.0 612.4C1326.3 610.3 1333.7 609.1 1341.0 608.4C1348.3 607.7 1355.7 608.1 1363.0 608.4C1370.3 608.6 1377.7 609.2 1385.0 609.9C1392.3 610.6 1399.7 611.8 1407.0 612.6C1414.3 613.5 1421.7 614.6 1429.0 614.9C1436.3 615.1 1443.7 614.3 1451.0 614.1C1458.3 613.8 1465.7 614.0 1473.0 613.3C1480.3 612.6 1487.7 611.0 1495.0 609.8C1502.3 608.6 1509.7 607.0 1517.0 606.2C1524.3 605.4 1531.7 605.1 1539.0 604.8C1546.3 604.5 1553.7 604.5 1561.0 604.4C1568.3 604.2 1575.7 604.2 1583.0 604.0C1590.3 603.9 1597.7 603.7 1605.0 603.5C1612.3 603.3 1619.7 603.3 1627.0 602.9C1634.3 602.5 1641.7 601.9 1649.0 601.0C1656.3 600.2 1663.7 598.8 1671.0 597.6C1678.3 596.5 1685.7 595.4 1693.0 594.3C1700.3 593.2 1707.7 592.2 1715.0 591.1C1722.3 590.1 1729.7 589.1 1737.0 588.0C1744.3 586.9 1751.7 585.8 1759.0 584.7C1766.3 583.6 1773.7 582.6 1781.0 581.5C1788.3 580.4 1795.7 579.5 1803.0 578.1C1810.3 576.7 1817.7 574.9 1825.0 573.0C1832.3 571.1 1839.7 569.2 1847.0 566.9C1854.3 564.5 1861.7 561.5 1869.0 558.9C1876.3 556.2 1883.7 553.5 1891.0 551.0C1898.3 548.5 1905.7 545.5 1913.0 543.8C1920.3 542.2 1927.7 541.9 1935.0 541.0C1942.3 540.0 1949.7 539.2 1957.0 538.3C1964.3 537.4 1971.7 536.5 1979.0 535.6C1986.3 534.7 1993.7 534.0 2001.0 532.8C2008.3 531.7 2015.7 530.2 2023.0 528.8C2030.3 527.3 2041.3 524.9 2045.0 524.1" fill="none" stroke="#000" stroke-width="1.9" stroke-linecap="round" stroke-linejoin="round"/>
<path d="M548.3 685.2C552.0 686.3 563.0 689.3 570.3 691.3C577.7 693.4 585.0 695.4 592.3 697.5C599.7 699.5 607.0 701.4 614.3 703.4C621.7 705.4 629.0 707.4 636.3 709.3C643.7 711.3 651.0 713.2 658.3 715.1C665.7 717.0 673.0 719.1 680.3 720.8C687.7 722.6 695.0 724.2 702.3 725.7C709.7 727.1 717.0 728.2 724.3 729.4C731.7 730.6 739.0 732.0 746.3 732.7C753.7 733.3 761.0 733.5 768.3 733.5C775.7 733.6 783.0 733.4 790.3 732.9C797.7 732.4 805.0 731.8 812.3 730.6C819.7 729.3 827.0 727.4 834.3 725.5C841.7 723.7 849.0 721.9 856.3 719.5C863.7 717.0 871.0 713.6 878.3 710.7C885.7 707.7 893.0 705.0 900.3 701.9C907.7 698.7 915.0 695.3 922.3 691.9C929.7 688.5 937.0 685.2 944.3 681.5C951.7 677.8 959.0 673.6 966.3 669.8C973.7 666.0 981.0 661.8 988.3 658.7C995.7 655.5 1003.0 652.0 1010.3 650.7C1017.7 649.5 1025.0 650.5 1032.3 651.2C1039.7 651.9 1047.0 654.1 1054.3 654.9C1061.7 655.7 1069.0 656.1 1076.3 656.2C1083.7 656.2 1091.0 656.4 1098.3 655.3C1105.7 654.2 1113.0 651.9 1120.3 649.5C1127.7 647.2 1135.0 644.3 1142.3 641.2C1149.7 638.1 1157.0 633.5 1164.3 631.0C1171.7 628.5 1179.0 627.0 1186.3 626.3C1193.7 625.7 1201.0 627.0 1208.3 627.0C1215.7 627.0 1223.0 627.3 1230.3 626.4C1237.7 625.6 1245.0 623.8 1252.3 622.0C1259.7 620.1 1267.0 617.7 1274.3 615.1C1281.7 612.5 1289.0 609.4 1296.3 606.4C1303.7 603.5 1311.0 599.8 1318.3 597.7C1325.7 595.5 1333.0 594.2 1340.3 593.5C1347.7 592.7 1355.0 593.1 1362.3 593.3C1369.7 593.6 1377.0 594.0 1384.3 594.8C1391.7 595.6 1399.0 597.0 1406.3 598.1C1413.7 599.1 1421.0 600.5 1428.3 600.9C1435.7 601.3 1443.0 600.6 1450.3 600.5C1457.7 600.3 1465.0 600.7 1472.3 600.1C1479.7 599.4 1487.0 597.8 1494.3 596.5C1501.7 595.3 1509.0 593.6 1516.3 592.6C1523.7 591.6 1531.0 591.0 1538.3 590.5C1545.7 590.0 1553.0 589.8 1560.3 589.6C1567.7 589.3 1575.0 589.1 1582.3 589.0C1589.7 588.9 1597.0 589.0 1604.3 589.0C1611.7 589.0 1619.0 589.2 1626.3 589.0C1633.7 588.8 1641.0 588.2 1648.3 587.5C1655.7 586.8 1663.0 585.6 1670.3 584.7C1677.7 583.7 1685.0 582.8 1692.3 581.9C1699.7 581.0 1707.0 580.2 1714.3 579.3C1721.7 578.5 1729.0 577.7 1736.3 576.8C1743.7 575.8 1751.0 574.8 1758.3 573.7C1765.7 572.7 1773.0 571.6 1780.3 570.4C1787.7 569.3 1795.0 568.5 1802.3 566.9C1809.7 565.3 1817.0 563.1 1824.3 560.9C1831.7 558.7 1839.0 556.4 1846.3 553.8C1853.7 551.2 1861.0 547.9 1868.3 545.1C1875.7 542.3 1883.0 539.4 1890.3 537.0C1897.7 534.6 1905.0 532.0 1912.3 530.8C1919.7 529.5 1927.0 530.1 1934.3 529.7C1941.7 529.3 1949.0 529.0 1956.3 528.4C1963.7 527.8 1971.0 526.9 1978.3 526.2C1985.7 525.4 1993.0 524.9 2000.3 523.9C2007.7 523.0 2018.7 521.0 2022.3 520.4" fill="none" stroke="#000" stroke-width="3.9" stroke-linecap="round" stroke-linejoin="round"/>
<path d="M547.7 669.2C551.4 670.2 562.4 673.2 569.7 675.2C577.1 677.2 584.4 679.3 591.7 681.3C599.1 683.3 606.4 685.2 613.7 687.2C621.1 689.2 628.4 691.2 635.7 693.1C643.1 695.0 650.4 696.9 657.7 698.7C665.1 700.6 672.4 702.7 679.7 704.3C687.1 706.0 694.4 707.3 701.7 708.6C709.1 709.9 716.4 711.0 723.7 711.9C731.1 712.9 738.4 714.0 745.7 714.5C753.1 715.0 760.4 715.0 767.7 715.0C775.1 714.9 782.4 714.6 789.7 714.0C797.1 713.4 804.4 712.5 811.7 711.2C819.1 709.9 826.4 708.1 833.7 706.3C841.1 704.5 848.4 702.7 855.7 700.3C863.1 697.9 870.4 694.7 877.7 692.1C885.1 689.4 892.4 687.0 899.7 684.2C907.1 681.5 914.4 678.5 921.7 675.5C929.1 672.6 936.4 669.6 943.7 666.3C951.1 663.1 958.4 659.3 965.7 655.9C973.1 652.6 980.4 648.9 987.7 646.1C995.1 643.3 1002.4 640.2 1009.7 639.1C1017.1 638.0 1024.4 638.9 1031.7 639.4C1039.1 639.9 1046.4 641.7 1053.7 642.3C1061.1 642.9 1068.4 643.0 1075.7 643.0C1083.1 642.9 1090.4 643.1 1097.7 642.0C1105.1 640.9 1112.4 638.6 1119.7 636.3C1127.1 634.1 1134.4 631.3 1141.7 628.4C1149.1 625.6 1156.4 621.6 1163.7 619.4C1171.1 617.2 1178.4 615.8 1185.7 615.2C1193.1 614.5 1200.4 615.6 1207.7 615.5C1215.1 615.4 1222.4 615.3 1229.7 614.4C1237.1 613.5 1244.4 611.9 1251.7 610.0C1259.1 608.1 1266.4 605.6 1273.7 602.9C1281.1 600.3 1288.4 597.1 1295.7 594.2C1303.1 591.4 1310.4 587.9 1317.7 585.9C1325.1 583.8 1332.4 582.8 1339.7 582.1C1347.1 581.4 1354.4 581.6 1361.7 581.6C1369.1 581.7 1376.4 582.0 1383.7 582.5C1391.1 583.0 1398.4 583.8 1405.7 584.6C1413.1 585.5 1420.4 587.1 1427.7 587.6C1435.1 588.1 1442.4 587.6 1449.7 587.6C1457.1 587.6 1464.4 588.1 1471.7 587.5C1479.1 586.9 1486.4 585.2 1493.7 583.9C1501.1 582.6 1508.4 580.8 1515.7 579.7C1523.1 578.5 1530.4 577.6 1537.7 576.9C1545.1 576.2 1552.4 576.0 1559.7 575.6C1567.1 575.2 1574.4 574.7 1581.7 574.7C1589.1 574.6 1596.4 575.0 1603.7 575.2C1611.1 575.4 1618.4 575.8 1625.7 575.8C1633.1 575.7 1640.4 575.2 1647.7 574.6C1655.1 574.1 1662.4 573.1 1669.7 572.3C1677.1 571.5 1684.4 570.8 1691.7 570.0C1699.1 569.3 1706.4 568.7 1713.7 568.1C1721.1 567.4 1728.4 566.9 1735.7 566.1C1743.1 565.3 1750.4 564.3 1757.7 563.3C1765.1 562.3 1772.4 561.1 1779.7 559.9C1787.1 558.7 1794.4 558.0 1801.7 556.2C1809.1 554.5 1816.4 552.0 1823.7 549.5C1831.1 547.0 1838.4 544.4 1845.7 541.5C1853.1 538.6 1860.4 535.1 1867.7 532.1C1875.1 529.1 1886.1 525.1 1889.7 523.6" fill="none" stroke="#000" stroke-width="1.9" stroke-linecap="round" stroke-linejoin="round"/>
<path d="M547.1 653.2C550.8 654.1 561.8 657.1 569.1 659.1C576.5 661.1 583.8 663.1 591.1 665.1C598.5 667.1 605.8 669.1 613.1 671.0C620.5 673.0 627.8 675.0 635.1 676.9C642.5 678.8 649.8 680.6 657.1 682.4C664.5 684.2 671.8 686.3 679.1 687.8C686.5 689.4 693.8 690.4 701.1 691.6C708.5 692.7 715.8 693.7 723.1 694.5C730.5 695.3 737.8 696.1 745.1 696.4C752.5 696.7 759.8 696.6 767.1 696.4C774.5 696.2 781.8 695.8 789.1 695.1C796.5 694.3 803.8 693.2 811.1 691.9C818.5 690.6 825.8 688.9 833.1 687.2C840.5 685.4 847.8 683.4 855.1 681.2C862.5 678.9 869.8 675.9 877.1 673.4C884.5 671.0 891.8 668.9 899.1 666.5C906.5 664.1 913.8 661.7 921.1 659.1C928.5 656.5 935.8 653.9 943.1 651.1C950.5 648.3 957.8 645.0 965.1 642.0C972.5 639.1 979.8 636.0 987.1 633.5C994.5 631.1 1001.8 628.5 1009.1 627.5C1016.5 626.5 1023.8 627.2 1031.1 627.6C1038.5 628.0 1045.8 629.4 1053.1 629.8C1060.5 630.2 1067.8 630.0 1075.1 629.8C1082.5 629.7 1089.8 629.8 1097.1 628.7C1104.5 627.6 1111.8 625.3 1119.1 623.2C1126.5 621.0 1133.8 618.2 1141.1 615.6C1148.5 613.0 1155.8 609.6 1163.1 607.7C1170.5 605.8 1177.8 604.6 1185.1 604.0C1192.5 603.4 1199.8 604.4 1207.1 604.1C1214.5 603.8 1221.8 603.4 1229.1 602.4C1236.5 601.4 1243.8 600.1 1251.1 598.1C1258.5 596.2 1265.8 593.4 1273.1 590.7C1280.5 588.0 1287.8 584.8 1295.1 582.0C1302.5 579.2 1309.8 575.9 1317.1 574.0C1324.5 572.1 1331.8 571.3 1339.1 570.6C1346.5 570.0 1353.8 570.0 1361.1 570.0C1368.5 569.9 1375.8 570.0 1383.1 570.2C1390.5 570.4 1397.8 570.6 1405.1 571.2C1412.5 571.9 1419.8 573.7 1427.1 574.2C1434.5 574.8 1441.8 574.5 1449.1 574.7C1456.5 574.8 1463.8 575.4 1471.1 574.9C1478.5 574.3 1485.8 572.7 1493.1 571.3C1500.5 570.0 1507.8 568.1 1515.1 566.8C1522.5 565.5 1529.8 564.2 1537.1 563.4C1544.5 562.5 1551.8 562.1 1559.1 561.6C1566.5 561.1 1573.8 560.4 1581.1 560.3C1588.5 560.3 1595.8 561.0 1603.1 561.4C1610.5 561.8 1617.8 562.4 1625.1 562.5C1632.5 562.5 1639.8 562.2 1647.1 561.7C1654.5 561.3 1661.8 560.5 1669.1 559.9C1676.5 559.3 1683.8 558.7 1691.1 558.2C1698.5 557.7 1705.8 557.2 1713.1 556.8C1720.5 556.3 1727.8 556.0 1735.1 555.3C1742.5 554.7 1749.8 553.9 1757.1 552.9C1764.5 551.9 1771.8 550.6 1779.1 549.4C1786.5 548.2 1793.8 547.5 1801.1 545.6C1808.5 543.8 1815.8 540.9 1823.1 538.1C1830.5 535.4 1841.5 530.7 1845.1 529.2" fill="none" stroke="#000" stroke-width="1.9" stroke-linecap="round" stroke-linejoin="round"/>
<path d="M546.5 637.1C550.2 638.1 561.2 641.0 568.5 643.0C575.9 644.9 583.2 646.9 590.5 648.9C597.9 650.9 605.2 652.9 612.5 654.8C619.9 656.8 627.2 658.8 634.5 660.7C641.9 662.5 649.2 664.2 656.5 666.0C663.9 667.8 671.2 669.9 678.5 671.3C685.9 672.8 693.2 673.6 700.5 674.5C707.9 675.5 715.2 676.5 722.5 677.1C729.9 677.7 737.2 678.2 744.5 678.3C751.9 678.4 759.2 678.2 766.5 677.9C773.9 677.5 781.2 677.1 788.5 676.2C795.9 675.3 803.2 674.0 810.5 672.6C817.9 671.3 825.2 669.8 832.5 668.0C839.9 666.2 847.2 664.1 854.5 661.9C861.9 659.7 869.2 656.9 876.5 654.7C883.9 652.5 891.2 650.8 898.5 648.7C905.9 646.7 913.2 644.7 920.5 642.6C927.9 640.4 935.2 638.2 942.5 635.8C949.9 633.3 957.2 630.5 964.5 628.0C971.9 625.6 979.2 622.9 986.5 620.9C993.9 618.8 1001.2 616.7 1008.5 615.8C1015.9 615.0 1023.2 615.6 1030.5 615.9C1037.9 616.1 1045.2 617.2 1052.5 617.3C1059.9 617.5 1067.2 617.1 1074.5 616.8C1081.9 616.4 1089.2 616.5 1096.5 615.3C1103.9 614.2 1111.2 612.1 1118.5 610.0C1125.9 607.9 1133.2 605.1 1140.5 602.7C1147.9 600.4 1155.2 597.6 1162.5 595.9C1169.9 594.3 1177.2 593.3 1184.5 592.8C1191.9 592.2 1199.2 593.1 1206.5 592.7C1213.9 592.3 1221.2 591.5 1228.5 590.4C1235.9 589.3 1243.2 588.3 1250.5 586.3C1257.9 584.3 1265.2 581.3 1272.5 578.5C1279.9 575.8 1287.2 572.6 1294.5 569.8C1301.9 567.1 1309.2 563.7 1316.5 562.0C1323.9 560.2 1331.2 559.8 1338.5 559.2C1345.9 558.6 1353.2 558.5 1360.5 558.3C1367.9 558.1 1375.2 558.1 1382.5 558.0C1389.9 558.0 1397.2 557.4 1404.5 557.9C1411.9 558.3 1419.2 560.2 1426.5 560.9C1433.9 561.5 1441.2 561.5 1448.5 561.7C1455.9 561.9 1463.2 562.8 1470.5 562.3C1477.9 561.8 1485.2 560.2 1492.5 558.8C1499.9 557.4 1507.2 555.5 1514.5 554.0C1521.9 552.5 1529.2 550.9 1536.5 549.8C1543.9 548.8 1551.2 548.3 1558.5 547.7C1565.9 547.0 1573.2 546.0 1580.5 545.9C1587.9 545.9 1595.2 547.0 1602.5 547.6C1609.9 548.1 1617.2 548.9 1624.5 549.2C1631.9 549.4 1639.2 549.1 1646.5 548.8C1653.9 548.6 1661.2 547.9 1668.5 547.5C1675.9 547.1 1683.2 546.6 1690.5 546.3C1697.9 545.9 1705.2 545.7 1712.5 545.4C1719.9 545.1 1727.2 545.0 1734.5 544.6C1741.9 544.1 1749.2 543.5 1756.5 542.5C1763.9 541.6 1771.2 540.1 1778.5 538.9C1785.9 537.6 1793.2 537.1 1800.5 535.1C1807.9 533.1 1818.9 528.2 1822.5 526.8" fill="none" stroke="#000" stroke-width="1.9" stroke-linecap="round" stroke-linejoin="round"/>
<path d="M545.9 621.1C549.6 622.1 560.6 624.9 567.9 626.9C575.2 628.8 582.6 630.7 589.9 632.7C597.2 634.7 604.6 636.7 611.9 638.6C619.2 640.6 626.6 642.6 633.9 644.5C641.2 646.3 648.6 647.9 655.9 649.7C663.2 651.4 670.6 653.5 677.9 654.9C685.2 656.2 692.6 656.7 699.9 657.5C707.2 658.3 714.6 659.2 721.9 659.7C729.2 660.1 736.6 660.3 743.9 660.2C751.2 660.2 758.6 659.8 765.9 659.4C773.2 658.9 780.6 658.4 787.9 657.4C795.2 656.4 802.6 654.8 809.9 653.4C817.2 651.9 824.6 650.6 831.9 648.8C839.2 647.0 846.6 644.8 853.9 642.7C861.2 640.6 868.6 638.0 875.9 636.0C883.2 634.1 890.6 632.6 897.9 630.9C905.2 629.3 912.6 627.7 919.9 626.0C927.2 624.2 934.6 622.4 941.9 620.4C949.2 618.4 956.6 616.0 963.9 614.0C971.2 611.9 978.6 609.7 985.9 608.1C993.2 606.5 1000.6 604.8 1007.9 604.2C1015.2 603.5 1022.6 604.0 1029.9 604.2C1037.2 604.3 1044.6 605.0 1051.9 604.9C1059.2 604.8 1066.6 604.2 1073.9 603.7C1081.2 603.2 1088.6 603.1 1095.9 601.9C1103.2 600.8 1110.6 598.8 1117.9 596.8C1125.2 594.8 1132.6 591.9 1139.9 589.8C1147.2 587.7 1154.6 585.5 1161.9 584.1C1169.2 582.8 1176.6 582.0 1183.9 581.6C1191.2 581.1 1198.6 581.9 1205.9 581.4C1213.2 580.8 1220.6 579.5 1227.9 578.4C1235.2 577.2 1242.6 576.5 1249.9 574.5C1257.2 572.5 1264.6 569.1 1271.9 566.3C1279.2 563.5 1286.6 560.3 1293.9 557.6C1301.2 554.9 1308.6 551.6 1315.9 549.9C1323.2 548.3 1330.6 548.3 1337.9 547.8C1345.2 547.2 1352.6 547.0 1359.9 546.7C1367.2 546.4 1374.6 546.3 1381.9 545.9C1389.2 545.6 1396.6 544.3 1403.9 544.6C1411.2 544.8 1418.6 546.8 1425.9 547.5C1433.2 548.1 1440.6 548.4 1447.9 548.7C1455.2 549.1 1462.6 550.1 1469.9 549.6C1477.2 549.2 1484.6 547.6 1491.9 546.2C1499.2 544.8 1506.6 542.9 1513.9 541.3C1521.2 539.6 1528.6 537.6 1535.9 536.3C1543.2 535.1 1550.6 534.6 1557.9 533.8C1565.2 533.0 1572.6 531.5 1579.9 531.5C1587.2 531.5 1594.6 533.0 1601.9 533.7C1609.2 534.4 1616.6 535.4 1623.9 535.8C1631.2 536.2 1638.6 536.1 1645.9 535.9C1653.2 535.8 1660.6 535.3 1667.9 535.1C1675.2 534.8 1682.6 534.5 1689.9 534.4C1697.2 534.2 1704.6 534.2 1711.9 534.1C1719.2 534.0 1726.6 534.1 1733.9 533.8C1741.2 533.4 1748.6 533.0 1755.9 532.1C1763.2 531.2 1770.6 529.6 1777.9 528.3C1785.2 527.1 1796.2 525.2 1799.9 524.6" fill="none" stroke="#000" stroke-width="1.9" stroke-linecap="round" stroke-linejoin="round"/>
<path d="M545.2 605.1C548.9 606.0 559.9 608.8 567.2 610.7C574.6 612.6 581.9 614.5 589.2 616.5C596.6 618.4 603.9 620.5 611.2 622.4C618.6 624.4 625.9 626.4 633.2 628.2C640.6 630.1 647.9 631.6 655.2 633.3C662.6 635.0 669.9 637.2 677.2 638.4C684.6 639.6 691.9 639.9 699.2 640.5C706.6 641.2 713.9 642.0 721.2 642.3C728.6 642.6 735.9 642.4 743.2 642.2C750.6 642.0 757.9 641.5 765.2 640.9C772.6 640.3 779.9 639.7 787.2 638.6C794.6 637.4 801.9 635.6 809.2 634.2C816.6 632.7 823.9 631.4 831.2 629.7C838.6 627.9 845.9 625.5 853.2 623.5C860.6 621.4 867.9 619.1 875.2 617.3C882.6 615.6 889.9 614.4 897.2 613.1C904.6 611.7 911.9 610.7 919.2 609.3C926.6 608.0 933.9 606.5 941.2 604.9C948.6 603.3 955.9 601.5 963.2 599.9C970.6 598.2 977.9 596.5 985.2 595.3C992.6 594.0 999.9 593.0 1007.2 592.5C1014.6 592.0 1021.9 592.5 1029.2 592.5C1036.6 592.5 1043.9 592.8 1051.2 592.5C1058.6 592.2 1065.9 591.3 1073.2 590.7C1080.6 590.0 1087.9 589.6 1095.2 588.5C1102.6 587.3 1109.9 585.6 1117.2 583.7C1124.6 581.8 1131.9 578.8 1139.2 576.9C1146.6 575.0 1153.9 573.4 1161.2 572.3C1168.6 571.2 1175.9 570.7 1183.2 570.4C1190.6 570.0 1197.9 570.8 1205.2 570.1C1212.6 569.4 1219.9 567.6 1227.2 566.4C1234.6 565.1 1241.9 564.7 1249.2 562.6C1256.6 560.6 1263.9 557.0 1271.2 554.1C1278.6 551.2 1285.9 548.1 1293.2 545.4C1300.6 542.7 1307.9 539.3 1315.2 537.8C1322.6 536.3 1329.9 536.8 1337.2 536.3C1344.6 535.9 1351.9 535.5 1359.2 535.1C1366.6 534.7 1373.9 534.5 1381.2 533.9C1388.6 533.2 1397.3 531.5 1403.2 531.3C1409.2 531.0 1414.7 532.2 1417.0 532.3" fill="none" stroke="#000" stroke-width="3.9" stroke-linecap="round" stroke-linejoin="round"/>
<path d="M544.6 588.2C548.3 589.3 559.3 592.4 566.6 594.5C574.0 596.5 581.3 598.7 588.6 600.8C596.0 602.9 603.3 605.0 610.6 607.0C618.0 608.9 625.3 610.9 632.6 612.7C640.0 614.5 647.3 616.2 654.6 617.8C662.0 619.5 669.3 621.6 676.6 622.9C684.0 624.2 691.3 624.8 698.6 625.6C706.0 626.3 713.3 627.2 720.6 627.5C728.0 627.9 735.3 627.9 742.6 627.8C750.0 627.7 757.3 627.3 764.6 626.7C772.0 626.2 779.3 625.5 786.6 624.4C794.0 623.4 801.3 621.7 808.6 620.3C816.0 618.8 823.3 617.5 830.6 615.8C838.0 614.0 845.3 611.8 852.6 609.9C860.0 607.9 867.3 605.7 874.6 604.0C882.0 602.2 889.3 600.9 896.6 599.4C904.0 597.9 911.3 596.6 918.6 595.1C926.0 593.6 933.3 592.1 940.6 590.6C948.0 589.0 955.3 587.3 962.6 585.9C970.0 584.4 977.3 582.9 984.6 581.8C992.0 580.8 999.3 580.0 1006.6 579.7C1014.0 579.4 1021.3 579.9 1028.6 579.9C1036.0 579.9 1043.3 580.1 1050.6 579.7C1058.0 579.4 1065.3 578.5 1072.6 577.8C1080.0 577.1 1087.3 576.7 1094.6 575.6C1102.0 574.5 1109.3 573.1 1116.6 571.2C1124.0 569.4 1131.3 566.2 1138.6 564.5C1146.0 562.8 1153.3 561.7 1160.6 560.9C1168.0 560.1 1175.3 560.0 1182.6 559.7C1190.0 559.5 1197.3 560.2 1204.6 559.4C1212.0 558.6 1219.3 556.3 1226.6 554.9C1234.0 553.6 1241.3 553.4 1248.6 551.3C1256.0 549.3 1266.2 544.3 1270.6 542.5C1275.0 540.8 1274.3 541.1 1275.0 540.8" fill="none" stroke="#000" stroke-width="1.9" stroke-linecap="round" stroke-linejoin="round"/>
<path d="M544.0 571.3C547.6 572.5 558.6 575.9 566.0 578.1C573.3 580.4 580.6 582.8 588.0 585.0C595.3 587.2 602.6 589.4 610.0 591.5C617.3 593.5 624.6 595.4 632.0 597.2C639.3 599.0 646.6 600.7 654.0 602.4C661.3 604.1 668.6 606.0 676.0 607.4C683.3 608.7 690.6 609.7 698.0 610.6C705.3 611.5 712.6 612.3 720.0 612.8C727.3 613.3 734.6 613.4 742.0 613.4C749.3 613.3 756.6 613.1 764.0 612.6C771.3 612.1 778.6 611.3 786.0 610.3C793.3 609.3 800.6 607.8 808.0 606.4C815.3 605.0 822.6 603.5 830.0 601.9C837.3 600.2 844.6 598.1 852.0 596.3C859.3 594.4 866.6 592.4 874.0 590.7C881.3 588.9 888.6 587.4 896.0 585.8C903.3 584.1 910.6 582.5 918.0 580.9C925.3 579.3 932.6 577.8 940.0 576.2C947.3 574.7 954.6 573.2 962.0 571.9C969.3 570.6 976.6 569.2 984.0 568.4C991.3 567.5 998.6 567.1 1006.0 566.9C1013.3 566.8 1020.6 567.4 1028.0 567.3C1035.3 567.3 1042.6 567.3 1050.0 566.9C1057.3 566.5 1064.6 565.7 1072.0 565.0C1079.3 564.2 1086.6 563.6 1094.0 562.6C1101.3 561.6 1108.6 560.5 1116.0 558.8C1123.3 557.0 1130.6 553.7 1138.0 552.2C1145.3 550.6 1152.6 550.0 1160.0 549.5C1167.3 549.0 1174.6 549.2 1182.0 549.1C1189.3 549.0 1199.8 549.0 1204.0 548.8C1208.2 548.7 1206.5 548.2 1207.0 548.1" fill="none" stroke="#000" stroke-width="1.9" stroke-linecap="round" stroke-linejoin="round"/>
<path d="M570.0 563.4C573.7 564.6 584.7 568.5 592.0 570.8C599.3 573.1 606.7 575.2 614.0 577.2C621.3 579.2 628.7 581.0 636.0 582.8C643.3 584.6 650.7 586.3 658.0 588.0C665.3 589.7 672.7 591.6 680.0 592.9C687.3 594.3 694.7 595.1 702.0 596.1C709.3 597.0 716.7 598.1 724.0 598.5C731.3 599.0 738.7 598.9 746.0 598.8C753.3 598.8 760.7 598.8 768.0 598.2C775.3 597.7 782.7 596.5 790.0 595.4C797.3 594.3 804.7 593.0 812.0 591.5C819.3 590.1 826.7 588.5 834.0 586.8C841.3 585.1 848.7 583.3 856.0 581.5C863.3 579.7 870.7 577.8 878.0 576.1C885.3 574.3 892.7 572.8 900.0 571.1C907.3 569.4 914.7 567.4 922.0 565.7C929.3 564.0 936.7 562.4 944.0 561.0C951.3 559.5 958.7 558.2 966.0 557.1C973.3 556.0 980.7 555.1 988.0 554.6C995.3 554.1 1002.7 554.2 1010.0 554.3C1017.3 554.3 1024.7 554.7 1032.0 554.7C1039.3 554.6 1046.7 554.5 1054.0 554.0C1061.3 553.5 1068.7 552.2 1076.0 551.5C1083.3 550.8 1094.3 550.1 1098.0 549.8" fill="none" stroke="#000" stroke-width="1.9" stroke-linecap="round" stroke-linejoin="round"/>
<path d="M620.0 563.4C623.7 564.3 634.7 567.2 642.0 568.9C649.3 570.7 656.7 572.4 664.0 574.0C671.3 575.6 678.7 577.4 686.0 578.7C693.3 580.1 700.7 580.9 708.0 581.9C715.3 582.9 722.7 584.2 730.0 584.6C737.3 585.0 744.7 584.5 752.0 584.3C759.3 584.1 766.7 584.0 774.0 583.4C781.3 582.7 788.7 581.5 796.0 580.3C803.3 579.1 810.7 577.7 818.0 576.2C825.3 574.8 832.7 573.1 840.0 571.4C847.3 569.8 854.7 568.1 862.0 566.4C869.3 564.7 876.7 562.9 884.0 561.1C891.3 559.3 902.3 556.5 906.0 555.5" fill="none" stroke="#000" stroke-width="1.9" stroke-linecap="round" stroke-linejoin="round"/>
<path d="M647.0 554.9C650.7 555.7 661.7 558.1 669.0 559.8C676.3 561.4 683.7 563.3 691.0 564.7C698.3 566.0 705.7 566.8 713.0 567.7C720.3 568.6 727.7 569.6 735.0 570.0C742.3 570.4 749.7 570.3 757.0 570.0C764.3 569.7 771.7 569.2 779.0 568.5C786.3 567.7 793.7 566.8 801.0 565.5C808.3 564.3 815.7 562.7 823.0 561.1C830.3 559.6 837.7 558.0 845.0 556.4C852.3 554.8 862.5 552.6 867.0 551.7C871.5 550.7 871.2 550.8 872.0 550.6" fill="none" stroke="#000" stroke-width="3.9" stroke-linecap="round" stroke-linejoin="round"/>
<path d="M634.0 866.5C638.3 867.7 652.3 871.6 660.0 873.5C667.7 875.4 672.5 876.9 680.0 878.0C687.5 879.1 700.8 879.7 705.0 880.0" fill="none" stroke="#000" stroke-width="3.9" stroke-linecap="round" stroke-linejoin="round"/>
<path d="M705.0 880.0C707.8 879.9 716.7 879.8 722.0 879.5C727.3 879.2 734.5 878.7 737.0 878.5" fill="none" stroke="#000" stroke-width="2.6" stroke-linecap="round" stroke-linejoin="round"/>
<path d="M633.0 861.5C635.8 860.4 642.2 856.9 650.0 855.0C657.8 853.1 662.5 851.2 680.0 850.0C697.5 848.8 730.0 847.5 755.0 847.5C780.0 847.5 809.2 851.2 830.0 850.0C850.8 848.8 863.3 845.4 880.0 840.0C896.7 834.6 915.5 823.8 930.0 817.5C944.5 811.2 954.5 806.1 967.0 802.5C979.5 798.9 991.2 797.7 1005.0 796.0C1018.8 794.3 1034.2 794.2 1050.0 792.5C1065.8 790.8 1081.3 789.8 1100.0 785.5C1118.7 781.2 1141.2 773.1 1162.0 767.0C1182.8 760.9 1202.0 753.3 1225.0 749.0C1248.0 744.7 1279.2 743.8 1300.0 741.0C1320.8 738.2 1333.3 733.2 1350.0 732.5C1366.7 731.8 1383.3 737.5 1400.0 736.7C1416.7 736.0 1433.3 731.3 1450.0 728.0C1466.7 724.7 1487.5 718.5 1500.0 716.7C1512.5 715.0 1513.8 716.0 1525.0 717.5C1536.2 719.0 1557.3 724.2 1567.0 726.0C1576.7 727.8 1568.7 730.0 1583.0 728.0C1597.3 726.0 1633.5 718.3 1653.0 714.0C1672.5 709.7 1681.0 706.5 1700.0 702.0C1719.0 697.5 1745.5 690.0 1767.0 686.7C1788.5 683.5 1815.2 683.0 1829.0 682.5C1842.8 682.0 1840.3 684.2 1850.0 684.0C1859.7 683.8 1876.7 682.5 1887.0 681.0C1897.3 679.5 1903.7 678.5 1912.0 675.0C1920.3 671.5 1928.7 665.0 1937.0 660.0C1945.3 655.0 1951.5 649.8 1962.0 645.0C1972.5 640.2 1985.3 635.8 2000.0 631.0C2014.7 626.2 2035.5 621.2 2050.0 616.0C2064.5 610.8 2074.5 605.6 2087.0 600.0C2099.5 594.4 2112.5 587.9 2125.0 582.5C2137.5 577.1 2149.5 571.4 2162.0 567.5C2174.5 563.6 2183.3 562.6 2200.0 559.0C2216.7 555.4 2245.3 548.5 2262.0 546.0C2278.7 543.5 2283.3 544.6 2300.0 544.0C2316.7 543.4 2345.3 543.6 2362.0 542.5C2378.7 541.4 2387.5 539.8 2400.0 537.5C2412.5 535.2 2430.8 530.4 2437.0 529.0" fill="none" stroke="#000" stroke-width="3.9" stroke-linecap="round" stroke-linejoin="round"/>
<path d="M1085.0 806.0C1092.5 804.2 1115.0 799.3 1130.0 795.0C1145.0 790.7 1159.2 785.4 1175.0 780.0C1190.8 774.6 1204.2 766.7 1225.0 762.5C1245.8 758.3 1277.2 757.8 1300.0 755.0C1322.8 752.2 1345.3 746.5 1362.0 746.0C1378.7 745.5 1385.3 752.2 1400.0 751.7C1414.7 751.2 1433.3 746.5 1450.0 743.0C1466.7 739.5 1486.2 732.9 1500.0 731.0C1513.8 729.1 1520.5 730.5 1533.0 731.7C1545.5 732.9 1562.5 737.2 1575.0 738.0C1587.5 738.8 1595.5 738.6 1608.0 736.7C1620.5 734.8 1634.7 730.7 1650.0 726.7C1665.3 722.8 1680.5 717.5 1700.0 713.0C1719.5 708.5 1745.5 702.8 1767.0 700.0C1788.5 697.2 1815.2 697.2 1829.0 696.0C1842.8 694.8 1838.2 694.2 1850.0 692.5C1861.8 690.8 1885.5 689.8 1900.0 686.0C1914.5 682.2 1924.5 675.6 1937.0 670.0C1949.5 664.4 1960.3 657.9 1975.0 652.5C1989.7 647.1 2008.3 642.5 2025.0 637.5C2041.7 632.5 2058.3 628.8 2075.0 622.5C2091.7 616.2 2108.3 606.9 2125.0 600.0C2141.7 593.1 2158.3 585.3 2175.0 581.0C2191.7 576.7 2208.3 576.3 2225.0 574.0C2241.7 571.7 2262.5 569.2 2275.0 567.0C2287.5 564.8 2283.3 563.4 2300.0 561.0C2316.7 558.6 2354.2 555.3 2375.0 552.5C2395.8 549.7 2409.7 547.8 2425.0 544.0C2440.3 540.2 2460.0 531.9 2467.0 529.5" fill="none" stroke="#000" stroke-width="1.9" stroke-linecap="round" stroke-linejoin="round"/>
<path d="M1150.0 812.0C1155.0 809.7 1169.7 802.7 1180.0 798.0C1190.3 793.3 1196.2 787.8 1212.0 784.0C1227.8 780.2 1252.0 778.7 1275.0 775.0C1298.0 771.3 1329.2 763.7 1350.0 762.0C1370.8 760.3 1383.3 765.7 1400.0 765.0C1416.7 764.3 1433.3 761.0 1450.0 758.0C1466.7 755.0 1486.2 748.6 1500.0 746.7C1513.8 744.8 1520.5 746.0 1533.0 746.7C1545.5 747.4 1561.0 751.0 1575.0 751.0C1589.0 751.0 1601.7 749.9 1617.0 746.7C1632.3 743.5 1650.3 736.5 1667.0 731.7C1683.7 726.9 1700.3 721.2 1717.0 718.0C1733.7 714.8 1748.3 713.5 1767.0 712.5C1785.7 711.5 1806.8 713.1 1829.0 711.7C1851.2 710.3 1879.8 707.6 1900.0 704.0C1920.2 700.4 1933.3 695.3 1950.0 690.0C1966.7 684.7 1983.3 677.3 2000.0 672.0C2016.7 666.7 2033.3 662.8 2050.0 658.0C2066.7 653.2 2083.3 648.5 2100.0 643.0C2116.7 637.5 2133.3 630.2 2150.0 625.0C2166.7 619.8 2183.3 615.7 2200.0 612.0C2216.7 608.3 2233.3 607.3 2250.0 603.0C2266.7 598.7 2283.3 591.1 2300.0 586.0C2316.7 580.9 2333.3 575.6 2350.0 572.5C2366.7 569.4 2383.3 570.0 2400.0 567.5C2416.7 565.0 2435.5 561.7 2450.0 557.5C2464.5 553.3 2477.5 547.2 2487.0 542.5C2496.5 537.8 2503.7 531.7 2507.0 529.5" fill="none" stroke="#000" stroke-width="1.9" stroke-linecap="round" stroke-linejoin="round"/>
<path d="M1500.0 787.5C1502.8 785.9 1510.0 780.8 1517.0 778.0C1524.0 775.2 1531.0 772.8 1542.0 771.0C1553.0 769.2 1567.8 768.5 1583.0 767.5C1598.2 766.5 1616.3 767.4 1633.0 765.0C1649.7 762.6 1669.0 756.9 1683.0 753.0C1697.0 749.1 1705.8 745.2 1717.0 741.7C1728.2 738.2 1740.3 733.8 1750.0 731.7C1759.7 729.6 1761.8 729.3 1775.0 729.0C1788.2 728.7 1808.2 731.2 1829.0 730.0C1849.8 728.8 1879.8 725.7 1900.0 722.0C1920.2 718.3 1933.3 712.8 1950.0 708.0C1966.7 703.2 1983.3 698.0 2000.0 693.0C2016.7 688.0 2033.3 682.2 2050.0 678.0C2066.7 673.8 2083.3 671.8 2100.0 668.0C2116.7 664.2 2133.3 659.2 2150.0 655.0C2166.7 650.8 2183.3 646.3 2200.0 643.0C2216.7 639.7 2233.3 638.7 2250.0 635.0C2266.7 631.3 2283.3 626.0 2300.0 621.0C2316.7 616.0 2333.3 611.0 2350.0 605.0C2366.7 599.0 2383.3 589.8 2400.0 585.0C2416.7 580.2 2433.3 579.2 2450.0 576.0C2466.7 572.8 2485.5 570.2 2500.0 566.0C2514.5 561.8 2526.2 556.1 2537.0 551.0C2547.8 545.9 2560.3 538.1 2565.0 535.5" fill="none" stroke="#000" stroke-width="1.9" stroke-linecap="round" stroke-linejoin="round"/>
<path d="M555.0 862.5C568.3 862.2 610.0 861.7 635.0 861.0C660.0 860.3 669.2 859.0 705.0 858.3C740.8 857.6 817.5 857.9 850.0 857.0C882.5 856.1 885.0 854.6 900.0 853.0C915.0 851.4 924.3 849.8 940.0 847.6C955.7 845.4 979.8 841.9 994.0 839.6C1008.2 837.3 1007.8 837.1 1025.5 833.8C1043.2 830.4 1079.8 823.3 1100.0 819.5C1120.2 815.7 1133.4 813.1 1146.7 811.0C1160.0 808.9 1162.8 808.1 1180.0 806.7C1197.2 805.3 1213.3 805.0 1250.0 802.5C1286.7 800.0 1358.3 794.2 1400.0 791.5C1441.7 788.8 1458.3 788.8 1500.0 786.5C1541.7 784.2 1609.5 780.2 1650.0 778.0C1690.5 775.8 1713.2 774.7 1743.0 773.0C1772.8 771.3 1802.8 771.8 1829.0 768.0C1855.2 764.2 1876.7 755.9 1900.0 750.0C1923.3 744.1 1957.5 735.4 1969.0 732.5" fill="none" stroke="#000" stroke-width="2.2" stroke-linecap="round" stroke-linejoin="round"/>
<path d="M555.0 869.4L641.7 869.4L705.0 868.0L738.0 867.5" fill="none" stroke="#000" stroke-width="2.2" stroke-linejoin="round"/>
<path d="M757.0 867.0C772.5 866.5 824.0 865.1 850.0 864.0C876.0 862.9 898.0 861.7 913.0 860.5C928.0 859.3 926.5 858.7 940.0 856.6C953.5 854.5 985.0 849.4 994.0 848.0" fill="none" stroke="#000" stroke-width="2.2" stroke-linejoin="round"/>
<path d="M1073.8 833.8C1078.2 832.8 1087.8 830.6 1100.0 828.0C1112.2 825.4 1133.4 820.6 1146.7 818.3C1160.0 816.0 1162.8 815.4 1180.0 814.0C1197.2 812.6 1213.3 812.5 1250.0 810.0C1286.7 807.5 1358.3 801.5 1400.0 799.0C1441.7 796.5 1458.3 797.0 1500.0 795.0C1541.7 793.0 1609.5 789.1 1650.0 787.0C1690.5 784.9 1713.2 784.2 1743.0 782.5C1772.8 780.8 1802.5 781.2 1829.0 777.0C1855.5 772.8 1878.5 763.2 1902.0 757.0C1925.5 750.8 1958.7 742.4 1970.0 739.5" fill="none" stroke="#000" stroke-width="2.2" stroke-linecap="round" stroke-linejoin="round"/>
<path d="M1975.0 736.0L2030.0 725.0" fill="none" stroke="#000" stroke-width="4.5" stroke-linejoin="round"/>
<path d="M2040.0 723.0L2022.0 719.0L2025.0 733.0Z" fill="#000" stroke="#000" stroke-width="1" stroke-linejoin="round"/>
<path d="M2042.0 714.0C2051.7 711.7 2073.7 706.3 2100.0 700.0C2126.3 693.7 2166.7 682.3 2200.0 676.0C2233.3 669.7 2266.7 672.0 2300.0 662.0C2333.3 652.0 2366.7 627.7 2400.0 616.0C2433.3 604.3 2473.3 599.7 2500.0 592.0C2526.7 584.3 2543.8 576.7 2560.0 570.0C2576.2 563.3 2590.8 555.0 2597.0 552.0" fill="none" stroke="#000" stroke-width="2.2" stroke-linecap="round" stroke-linejoin="round"/>
<path d="M2044.0 721.0C2053.3 718.7 2074.0 713.2 2100.0 707.0C2126.0 700.8 2166.7 690.3 2200.0 684.0C2233.3 677.7 2265.5 679.3 2300.0 669.0C2334.5 658.7 2373.7 633.3 2407.0 622.0C2440.3 610.7 2474.5 608.0 2500.0 601.0C2525.5 594.0 2543.5 587.2 2560.0 580.0C2576.5 572.8 2592.5 561.7 2599.0 558.0" fill="none" stroke="#000" stroke-width="2.2" stroke-linecap="round" stroke-linejoin="round"/>
<path d="M2250.0 660.0C2258.3 659.2 2275.0 663.0 2300.0 655.0C2325.0 647.0 2366.7 623.2 2400.0 612.0C2433.3 600.8 2475.0 595.0 2500.0 588.0C2525.0 581.0 2535.5 576.8 2550.0 570.0C2564.5 563.2 2577.0 553.3 2587.0 547.0C2597.0 540.7 2606.2 534.5 2610.0 532.0" fill="none" stroke="#000" stroke-width="1.9" stroke-linecap="round" stroke-linejoin="round"/>
<path d="M556.0 890.0L738.0 876.7" fill="none" stroke="#000" stroke-width="2.6" stroke-linejoin="round"/>
<path d="M758.0 879.0L940.0 866.2L1100.0 855.0L1213.0 848.5" fill="none" stroke="#000" stroke-width="2.6" stroke-linejoin="round"/>
<path d="M1242.0 846.7L1409.0 836.0L1592.0 828.5L1716.0 825.0" fill="none" stroke="#000" stroke-width="2.6" stroke-linejoin="round"/>
<path d="M555.0 912.5L690.0 905.0" fill="none" stroke="#000" stroke-width="2.0" stroke-linejoin="round"/>
<path d="M705.0 904.0L733.0 903.0" fill="none" stroke="#000" stroke-width="2.0" stroke-linejoin="round"/>
<path d="M749.0 900.0L925.0 890.5" fill="none" stroke="#000" stroke-width="2.0" stroke-linejoin="round"/>
<path d="M941.7 890.0L971.0 888.7" fill="none" stroke="#000" stroke-width="2.0" stroke-linejoin="round"/>
<path d="M987.5 887.5L1100.0 881.0L1205.0 875.5" fill="none" stroke="#000" stroke-width="2.0" stroke-linejoin="round"/>
<path d="M1222.0 874.5L1395.0 866.0" fill="none" stroke="#000" stroke-width="2.0" stroke-linejoin="round"/>
<path d="M1410.0 865.0L1425.0 864.3" fill="none" stroke="#000" stroke-width="2.0" stroke-linejoin="round"/>
<path d="M1455.0 862.5L1675.0 857.5" fill="none" stroke="#000" stroke-width="2.0" stroke-linejoin="round"/>
<path d="M1690.0 857.0L1741.0 855.0" fill="none" stroke="#000" stroke-width="2.0" stroke-dasharray="32 10" stroke-linejoin="round"/>
<path d="M556.7 936.7L649.0 933.0" fill="none" stroke="#000" stroke-width="4.2" stroke-linejoin="round"/>
<path d="M649.0 934.0L703.0 954.0L738.0 954.0L800.0 951.5L830.0 949.0L842.0 941.0L858.0 921.0L959.0 916.0L1100.0 909.0L1394.0 896.5" fill="none" stroke="#000" stroke-width="2.6" stroke-linejoin="round"/>
<path d="M1424.0 894.5L1587.0 889.0L1741.0 891.0" fill="none" stroke="#000" stroke-width="2.6" stroke-linejoin="round"/>
<path d="M558.0 938 Q569.0 948 580.0 937.5" fill="none" stroke="#000" stroke-width="1.8" stroke-linejoin="round"/>
<path d="M581.0 938 Q592.0 948 603.0 937.5" fill="none" stroke="#000" stroke-width="1.8" stroke-linejoin="round"/>
<path d="M604.0 938 Q615.0 948 626.0 937.5" fill="none" stroke="#000" stroke-width="1.8" stroke-linejoin="round"/>
<path d="M627.0 938 Q638.0 948 649.0 937.5" fill="none" stroke="#000" stroke-width="1.8" stroke-linejoin="round"/>
<path d="M556.5 912.0L557.5 937.0" fill="none" stroke="#000" stroke-width="1.8" stroke-linejoin="round"/>
<path d="M553.0 841.7L800.0 839.0" fill="none" stroke="#000" stroke-width="2.0" stroke-dasharray="38 9 1 9" stroke-linejoin="round"/>
<circle cx="591.0" cy="841.3" r="2.6" fill="#000" stroke="#000" stroke-width="0"/>
<circle cx="655.0" cy="841.3" r="2.6" fill="#000" stroke="#000" stroke-width="0"/>
<circle cx="731.0" cy="841.3" r="2.6" fill="#000" stroke="#000" stroke-width="0"/>
<path d="M745.0 838.0L800.0 838.0" fill="none" stroke="#000" stroke-width="3.2" stroke-linejoin="round"/>
<path d="M1181.0 838.0L1179.0 797.0L1175.5 741.0L1172.5 684.0" fill="none" stroke="#000" stroke-width="2.0" stroke-dasharray="52 7" stroke-linejoin="round"/>
<path d="M1172.5 683.8L1198.8 670.0" fill="none" stroke="#000" stroke-width="2.0" stroke-linejoin="round"/>
<path d="M1221.0 658.8L1262.5 640.0" fill="none" stroke="#000" stroke-width="2.0" stroke-linejoin="round"/>
<path d="M1280.0 631.0L1326.0 611.0" fill="none" stroke="#000" stroke-width="2.0" stroke-linejoin="round"/>
<path d="M1347.5 600.0L1394.0 579.0" fill="none" stroke="#000" stroke-width="2.0" stroke-linejoin="round"/>
<path d="M1416.0 567.5L1460.0 547.5" fill="none" stroke="#000" stroke-width="2.0" stroke-linejoin="round"/>
<path d="M1482.5 536.0L1525.0 517.0" fill="none" stroke="#000" stroke-width="2.0" stroke-linejoin="round"/>
<circle cx="1204.5" cy="667.5" r="3.0" fill="#000" stroke="#000" stroke-width="0"/>
<circle cx="1270.0" cy="637.0" r="3.0" fill="#000" stroke="#000" stroke-width="0"/>
<circle cx="1332.5" cy="606.8" r="3.0" fill="#000" stroke="#000" stroke-width="0"/>
<circle cx="1402.5" cy="573.8" r="3.0" fill="#000" stroke="#000" stroke-width="0"/>
<circle cx="1467.5" cy="543.8" r="3.0" fill="#000" stroke="#000" stroke-width="0"/>
<circle cx="1175.5" cy="729.0" r="2.8" fill="#000" stroke="#000" stroke-width="0"/>
<circle cx="1181.5" cy="797.0" r="2.8" fill="#000" stroke="#000" stroke-width="0"/>
<path d="M1120.0 838.0L1181.0 837.5" fill="none" stroke="#000" stroke-width="2.0" stroke-dasharray="16 7 1 7" stroke-linejoin="round"/>
<circle cx="1122.0" cy="838.0" r="2.6" fill="#000" stroke="#000" stroke-width="0"/>
<path d="M1153.3 818.3C1157.8 819.7 1168.3 824.4 1180.0 826.7C1191.7 829.0 1216.1 831.1 1223.3 832.0" fill="none" stroke="#000" stroke-width="1.8" stroke-linejoin="round"/>
<path d="M1500.0 795.0C1504.2 797.0 1509.7 801.5 1525.0 807.0C1540.3 812.5 1580.8 824.5 1592.0 828.0" fill="none" stroke="#000" stroke-width="1.8" stroke-linejoin="round"/>
<circle cx="746.7" cy="872.5" r="8.0" fill="#fff" stroke="#000" stroke-width="2.2"/>
<path d="M722.0 870.0L737.0 870.0" fill="none" stroke="#000" stroke-width="1.8" stroke-linejoin="round"/>
<path d="M722.0 875.0L737.0 875.0" fill="none" stroke="#000" stroke-width="1.8" stroke-linejoin="round"/>
<path d="M756.0 870.0L770.0 870.0" fill="none" stroke="#000" stroke-width="1.8" stroke-linejoin="round"/>
<path d="M756.0 875.0L770.0 875.0" fill="none" stroke="#000" stroke-width="1.8" stroke-linejoin="round"/>
<circle cx="1230.8" cy="841.3" r="9.0" fill="#000" stroke="#000" stroke-width="0"/>
<path d="M1213.0 840.5L1250.0 840.5" fill="none" stroke="#000" stroke-width="2" stroke-linejoin="round"/>
<circle cx="1731.6" cy="820.4" r="9.3" fill="#000" stroke="#000" stroke-width="0"/>
<path d="M1714.0 820.5L1751.0 819.5" fill="none" stroke="#000" stroke-width="2" stroke-linejoin="round"/>
<circle cx="1409.0" cy="896.0" r="8.5" fill="#fff" stroke="#000" stroke-width="2.2"/>
<path d="M1388.0 897.0L1400.0 897.0" fill="none" stroke="#000" stroke-width="2" stroke-linejoin="round"/>
<path d="M1418.0 895.0L1432.0 894.0" fill="none" stroke="#000" stroke-width="2" stroke-linejoin="round"/>
<circle cx="598.0" cy="921.0" r="2.2" fill="#000" stroke="#000" stroke-width="0"/>
<circle cx="999.0" cy="870.0" r="2.8" fill="#000" stroke="#000" stroke-width="0"/>
<circle cx="553.0" cy="902.0" r="2.0" fill="#000" stroke="#000" stroke-width="0"/>
<path d="M642.0 892.0L643.5 927.0" fill="none" stroke="#000" stroke-width="1.6" stroke-linejoin="round"/>
<path d="M642.0 892.0L646.0 910.0" fill="none" stroke="#000" stroke-width="1.6" stroke-linejoin="round"/>
<path d="M695.0 890.0L696.5 925.0" fill="none" stroke="#000" stroke-width="1.6" stroke-linejoin="round"/>
<path d="M695.0 890.0L698.0 908.0" fill="none" stroke="#000" stroke-width="1.6" stroke-linejoin="round"/>
<path d="M696.5 925.0L699.5 907.0" fill="none" stroke="#000" stroke-width="1.6" stroke-linejoin="round"/>
<path d="M805.0 880.0L806.5 928.0" fill="none" stroke="#000" stroke-width="1.6" stroke-linejoin="round"/>
<path d="M806.5 928.0L810.5 910.0" fill="none" stroke="#000" stroke-width="1.6" stroke-linejoin="round"/>
<path d="M857.0 879.0L858.5 913.0" fill="none" stroke="#000" stroke-width="1.6" stroke-linejoin="round"/>
<path d="M857.0 879.0L860.0 897.0" fill="none" stroke="#000" stroke-width="1.6" stroke-linejoin="round"/>
<path d="M858.5 913.0L861.5 895.0" fill="none" stroke="#000" stroke-width="1.6" stroke-linejoin="round"/>
<path d="M1477.0 844.0L1478.5 884.0" fill="none" stroke="#000" stroke-width="1.6" stroke-linejoin="round"/>
<path d="M1477.0 844.0L1480.0 862.0" fill="none" stroke="#000" stroke-width="1.6" stroke-linejoin="round"/>
<path d="M1478.5 884.0L1481.5 866.0" fill="none" stroke="#000" stroke-width="1.6" stroke-linejoin="round"/>
<text transform="translate(637.0 904.0) rotate(-90.0) scale(1.150 1)" font-family="Liberation Sans" font-size="17.0" font-weight="normal" text-anchor="start" letter-spacing="0">3</text>
<text transform="translate(637.0 926.0) rotate(-90.0) scale(1.150 1)" font-family="Liberation Sans" font-size="17.0" font-weight="normal" text-anchor="start" letter-spacing="0">3</text>
<text transform="translate(1331.0 861.0) scale(1.150 1)" font-family="Liberation Sans" font-size="22.0" font-weight="normal" text-anchor="start" letter-spacing="0">9</text>
<path d="M1317.0 855.0L1318.0 878.0" fill="none" stroke="#000" stroke-width="1.6" stroke-linejoin="round"/>
<path d="M1325.0 854.0L1326.0 877.0" fill="none" stroke="#000" stroke-width="1.6" stroke-linejoin="round"/>
<ellipse cx="1437" cy="871" rx="6.5" ry="8.5" fill="none" stroke="#000" stroke-width="2.6" transform="rotate(-10 1437 871)"/>
<path d="M1445.0 860.0L1446.0 881.0" fill="none" stroke="#000" stroke-width="2.6" stroke-linejoin="round"/>
<path d="M702.0 954.0C698.4 957.8 690.8 968.7 680.5 977.0C670.2 985.3 655.1 996.1 640.0 1003.6C624.9 1011.1 603.2 1017.8 590.0 1022.0C576.8 1026.2 565.6 1027.6 560.7 1028.7" fill="none" stroke="#000" stroke-width="4.0" stroke-linejoin="round"/>
<path d="M935.0 918.0L805.0 976.7L700.0 1020.0L563.0 1064.0" fill="none" stroke="#000" stroke-width="1.8" stroke-linejoin="round"/>
<path d="M1245.0 901.0C1237.5 904.2 1217.5 914.3 1200.0 920.0C1182.5 925.7 1173.3 925.8 1140.0 935.0C1106.7 944.2 1048.3 959.2 1000.0 975.0C951.7 990.8 900.0 1010.8 850.0 1030.0C800.0 1049.2 747.3 1072.8 700.0 1090.0C652.7 1107.2 588.3 1125.8 566.0 1133.0" fill="none" stroke="#000" stroke-width="1.8" stroke-linejoin="round"/>
<path d="M1743.8 834.0L1743.8 823.8L2230.0 835.5L2343.0 840.0L2659.0 854.5L2785.0 858.5L2943.0 864.5L3543.0 877.5L3905.0 886.0" fill="none" stroke="#000" stroke-width="2.6" stroke-linejoin="round"/>
<path d="M1743.8 832.5L2343.0 852.5L2640.0 864.5L2943.0 873.5L3543.0 886.0L3905.0 896.0" fill="none" stroke="#000" stroke-width="2.4" stroke-dasharray="22 12.5" stroke-linejoin="round"/>
<path d="M1745.0 898.8L1977.5 902.4" fill="none" stroke="#000" stroke-width="2.0" stroke-linejoin="round"/>
<path d="M1995.0 902.6L2007.5 902.8" fill="none" stroke="#000" stroke-width="2.0" stroke-linejoin="round"/>
<path d="M2024.0 903.1L2381.0 908.9" fill="none" stroke="#000" stroke-width="2.0" stroke-linejoin="round"/>
<path d="M2396.0 909.2L2407.0 909.5" fill="none" stroke="#000" stroke-width="2.0" stroke-linejoin="round"/>
<path d="M2422.0 909.8L2800.0 918.7" fill="none" stroke="#000" stroke-width="2.0" stroke-linejoin="round"/>
<path d="M2815.0 919.0L2832.5 919.4" fill="none" stroke="#000" stroke-width="2.0" stroke-linejoin="round"/>
<path d="M2847.5 919.8L3135.0 925.5" fill="none" stroke="#000" stroke-width="2.0" stroke-linejoin="round"/>
<path d="M3152.5 925.8L3167.5 926.1" fill="none" stroke="#000" stroke-width="2.0" stroke-linejoin="round"/>
<path d="M3182.5 926.4L3500.0 932.2" fill="none" stroke="#000" stroke-width="2.0" stroke-linejoin="round"/>
<path d="M3513.0 932.5L3525.0 932.7" fill="none" stroke="#000" stroke-width="2.0" stroke-linejoin="round"/>
<path d="M3543.8 933.0L3902.0 942.0" fill="none" stroke="#000" stroke-width="2.0" stroke-linejoin="round"/>
<path d="M1742.0 942.5L2343.0 952.5L2585.0 956.5L2900.0 961.0L3543.0 975.0L3902.0 984.0" fill="none" stroke="#000" stroke-width="4.0" stroke-linejoin="round"/>
<path d="M1700.0 855.8L1741.0 855.0" fill="none" stroke="#000" stroke-width="2.0" stroke-linejoin="round"/>
<path d="M1700.0 891.0L1741.0 891.0" fill="none" stroke="#000" stroke-width="2.6" stroke-linejoin="round"/>
<path d="M1743.0 847.0L1742.0 933.0" fill="none" stroke="#000" stroke-width="2.0" stroke-linejoin="round"/>
<path d="M1743.0 847.0L1748.0 869.0" fill="none" stroke="#000" stroke-width="2.0" stroke-linejoin="round"/>
<path d="M1742.0 933.0L1737.0 911.0" fill="none" stroke="#000" stroke-width="2.0" stroke-linejoin="round"/>
<text transform="translate(1736.5 920.5) rotate(-90.0) scale(1.120 1)" font-family="Liberation Sans" font-size="22.5" font-weight="normal" text-anchor="start" letter-spacing="7" stroke="#000" stroke-width="0.80">6.0</text>
<path d="M2960.0 885.0L2959.0 955.0" fill="none" stroke="#000" stroke-width="2.0" stroke-linejoin="round"/>
<path d="M2960.0 885.0L2965.0 907.0" fill="none" stroke="#000" stroke-width="2.0" stroke-linejoin="round"/>
<path d="M2959.0 955.0L2954.0 933.0" fill="none" stroke="#000" stroke-width="2.0" stroke-linejoin="round"/>
<text transform="translate(2952.5 943.0) rotate(-90.0) scale(1.120 1)" font-family="Liberation Sans" font-size="22.5" font-weight="normal" text-anchor="start" letter-spacing="4.7" stroke="#000" stroke-width="0.80">6.0</text>
<path d="M2687.0 877.0L2688.5 942.0" fill="none" stroke="#000" stroke-width="1.6" stroke-linejoin="round"/>
<path d="M2687.0 877.0L2690.0 895.0" fill="none" stroke="#000" stroke-width="1.6" stroke-linejoin="round"/>
<path d="M2688.5 942.0L2691.5 924.0" fill="none" stroke="#000" stroke-width="1.6" stroke-linejoin="round"/>
<path d="M1741.0 942.5L1741.0 972.5L2343.0 982.5L2960.0 1000.0L2980.0 1005.0" fill="none" stroke="#000" stroke-width="2.0" stroke-linejoin="round"/>
<path d="M1741.0 964.5L2343.0 974.5L2955.0 988.0L2972.0 996.0" fill="none" stroke="#000" stroke-width="2.4" stroke-dasharray="27 11" stroke-linejoin="round"/>
<path d="M2070.0 985.0L2343.0 994.0L2985.0 1006.0" fill="none" stroke="#000" stroke-width="2.6" stroke-linejoin="round"/>
<path d="M2150.0 989.0L2343.0 998.0L2985.0 1010.0" fill="none" stroke="#000" stroke-width="2.0" stroke-linejoin="round"/>
<path d="M2228.0 994.0L2252.0 995.0L2240.0 986.0Z" fill="#000" stroke="#000" stroke-width="1" stroke-linejoin="round"/>
<path d="M2296.0 995.6L2320.0 996.6L2308.0 987.6Z" fill="#000" stroke="#000" stroke-width="1" stroke-linejoin="round"/>
<path d="M2364.0 997.2L2388.0 998.2L2376.0 989.2Z" fill="#000" stroke="#000" stroke-width="1" stroke-linejoin="round"/>
<path d="M2432.0 998.8L2456.0 999.8L2444.0 990.8Z" fill="#000" stroke="#000" stroke-width="1" stroke-linejoin="round"/>
<path d="M2500.0 1000.4L2524.0 1001.4L2512.0 992.4Z" fill="#000" stroke="#000" stroke-width="1" stroke-linejoin="round"/>
<path d="M2568.0 1002.0L2592.0 1003.0L2580.0 994.0Z" fill="#000" stroke="#000" stroke-width="1" stroke-linejoin="round"/>
<path d="M2636.0 1003.6L2660.0 1004.6L2648.0 995.6Z" fill="#000" stroke="#000" stroke-width="1" stroke-linejoin="round"/>
<path d="M2704.0 1005.2L2728.0 1006.2L2716.0 997.2Z" fill="#000" stroke="#000" stroke-width="1" stroke-linejoin="round"/>
<path d="M2772.0 1006.8L2796.0 1007.8L2784.0 998.8Z" fill="#000" stroke="#000" stroke-width="1" stroke-linejoin="round"/>
<path d="M2840.0 1008.4L2864.0 1009.4L2852.0 1000.4Z" fill="#000" stroke="#000" stroke-width="1" stroke-linejoin="round"/>
<path d="M2908.0 1010.0L2932.0 1011.0L2920.0 1002.0Z" fill="#000" stroke="#000" stroke-width="1" stroke-linejoin="round"/>
<text transform="translate(1911.0 887.5) scale(1.100 1)" font-family="Liberation Sans" font-size="30.0" font-weight="normal" text-anchor="start" letter-spacing="1" stroke="#000" stroke-width="0.50">As</text>
<text transform="translate(3393.0 962.5) scale(1.100 1)" font-family="Liberation Sans" font-size="30.0" font-weight="normal" text-anchor="start" letter-spacing="1" stroke="#000" stroke-width="0.50">As</text>
<circle cx="2500.8" cy="914.5" r="13.5" fill="none" stroke="#000" stroke-width="2.4"/>
<path d="M2487.0 914.0L2514.0 915.0" fill="none" stroke="#000" stroke-width="2.0" stroke-linejoin="round"/>
<path d="M2500.5 901.0L2501.0 928.0" fill="none" stroke="#000" stroke-width="2.0" stroke-linejoin="round"/>
<path d="M2010.0 828.5L2031.0 802.5L2140.0 806.0L2215.0 829.0" fill="none" stroke="#000" stroke-width="2.4" stroke-linejoin="round"/>
<path d="M2034.0 808.0L2072.0 808.0" fill="none" stroke="#000" stroke-width="1.8" stroke-linejoin="round"/>
<path d="M2042.4 813.5L2063.6 813.5" fill="none" stroke="#000" stroke-width="1.8" stroke-linejoin="round"/>
<path d="M2053.0 813.5L2053.0 827.5" fill="none" stroke="#000" stroke-width="1.8" stroke-linejoin="round"/>
<path d="M2095.0 810.0L2139.0 810.0" fill="none" stroke="#000" stroke-width="1.8" stroke-linejoin="round"/>
<path d="M2104.7 815.5L2129.3 815.5" fill="none" stroke="#000" stroke-width="1.8" stroke-linejoin="round"/>
<path d="M2117.0 815.5L2117.0 826.5" fill="none" stroke="#000" stroke-width="1.8" stroke-linejoin="round"/>
<path d="M2160.0 821.0L2182.0 821.0" fill="none" stroke="#000" stroke-width="1.8" stroke-linejoin="round"/>
<path d="M2164.8 826.5L2177.2 826.5" fill="none" stroke="#000" stroke-width="1.8" stroke-linejoin="round"/>
<path d="M2171.0 826.5L2171.0 831.5" fill="none" stroke="#000" stroke-width="1.8" stroke-linejoin="round"/>
<circle cx="2123.8" cy="798.8" r="7.5" fill="#fff" stroke="#000" stroke-width="2.2"/>
<path d="M2107.0 798.0L2116.0 798.0" fill="none" stroke="#000" stroke-width="2" stroke-linejoin="round"/>
<path d="M2131.0 799.5L2142.0 799.5" fill="none" stroke="#000" stroke-width="2" stroke-linejoin="round"/>
<circle cx="2225.0" cy="826.0" r="8.8" fill="#000" stroke="#000" stroke-width="0"/>
<path d="M2207.0 826.0L2245.0 826.0" fill="none" stroke="#000" stroke-width="2" stroke-linejoin="round"/>
<path d="M2236.0 830.0L2400.0 838.0L2659.0 851.0L2790.0 860.5" fill="none" stroke="#000" stroke-width="1.8" stroke-linejoin="round"/>
<path d="M2236.0 827.5L2330.0 829.0L2430.0 832.0L2527.0 835.5L2600.0 840.0L2667.0 843.0" fill="none" stroke="#000" stroke-width="2.2" stroke-linejoin="round"/>
<path d="M2298.0 831.2L2324.0 831.2" fill="none" stroke="#000" stroke-width="1.6" stroke-linejoin="round"/>
<path d="M2303.7 836.7L2318.3 836.7" fill="none" stroke="#000" stroke-width="1.6" stroke-linejoin="round"/>
<path d="M2311.0 836.7L2311.0 840.7" fill="none" stroke="#000" stroke-width="1.6" stroke-linejoin="round"/>
<path d="M2348.0 832.4L2374.0 832.4" fill="none" stroke="#000" stroke-width="1.6" stroke-linejoin="round"/>
<path d="M2353.7 837.9L2368.3 837.9" fill="none" stroke="#000" stroke-width="1.6" stroke-linejoin="round"/>
<path d="M2361.0 837.9L2361.0 841.9" fill="none" stroke="#000" stroke-width="1.6" stroke-linejoin="round"/>
<path d="M2404.0 834.1L2430.0 834.1" fill="none" stroke="#000" stroke-width="1.6" stroke-linejoin="round"/>
<path d="M2409.7 839.6L2424.3 839.6" fill="none" stroke="#000" stroke-width="1.6" stroke-linejoin="round"/>
<path d="M2417.0 839.6L2417.0 843.6" fill="none" stroke="#000" stroke-width="1.6" stroke-linejoin="round"/>
<path d="M2453.0 835.8L2479.0 835.8" fill="none" stroke="#000" stroke-width="1.6" stroke-linejoin="round"/>
<path d="M2458.7 841.3L2473.3 841.3" fill="none" stroke="#000" stroke-width="1.6" stroke-linejoin="round"/>
<path d="M2466.0 841.3L2466.0 845.3" fill="none" stroke="#000" stroke-width="1.6" stroke-linejoin="round"/>
<path d="M2521.0 838.4L2547.0 838.4" fill="none" stroke="#000" stroke-width="1.6" stroke-linejoin="round"/>
<path d="M2526.7 843.9L2541.3 843.9" fill="none" stroke="#000" stroke-width="1.6" stroke-linejoin="round"/>
<path d="M2534.0 843.9L2534.0 847.9" fill="none" stroke="#000" stroke-width="1.6" stroke-linejoin="round"/>
<path d="M2556.0 840.6L2582.0 840.6" fill="none" stroke="#000" stroke-width="1.6" stroke-linejoin="round"/>
<path d="M2561.7 846.1L2576.3 846.1" fill="none" stroke="#000" stroke-width="1.6" stroke-linejoin="round"/>
<path d="M2569.0 846.1L2569.0 850.1" fill="none" stroke="#000" stroke-width="1.6" stroke-linejoin="round"/>
<path d="M2609.0 843.5L2635.0 843.5" fill="none" stroke="#000" stroke-width="1.6" stroke-linejoin="round"/>
<path d="M2614.7 849.0L2629.3 849.0" fill="none" stroke="#000" stroke-width="1.6" stroke-linejoin="round"/>
<path d="M2622.0 849.0L2622.0 853.0" fill="none" stroke="#000" stroke-width="1.6" stroke-linejoin="round"/>
<circle cx="2676.7" cy="842.8" r="7.3" fill="#fff" stroke="#000" stroke-width="2.2"/>
<path d="M2658.0 841.0L2668.0 841.5" fill="none" stroke="#000" stroke-width="2" stroke-linejoin="round"/>
<path d="M2684.0 842.5L2780.0 841.7L2804.0 806.7L2865.8 792.5L2861.7 800.0L2853.0 802.5" fill="none" stroke="#000" stroke-width="2.2" stroke-linejoin="round"/>
<circle cx="2730.8" cy="835.8" r="8.3" fill="#000" stroke="#000" stroke-width="0"/>
<path d="M2713.0 837.0L2748.0 835.0" fill="none" stroke="#000" stroke-width="2.2" stroke-linejoin="round"/>
<path d="M2716.0 846.5L2754.0 845.0" fill="none" stroke="#000" stroke-width="2.2" stroke-linejoin="round"/>
<path d="M2723.0 851.0L2744.0 850.0" fill="none" stroke="#000" stroke-width="2.0" stroke-linejoin="round"/>
<path d="M2735.0 846.0L2735.0 857.0" fill="none" stroke="#000" stroke-width="2" stroke-linejoin="round"/>
<path d="M2781.7 856.7L2789.0 849.0" fill="none" stroke="#000" stroke-width="2" stroke-linejoin="round"/>
<path d="M2783.0 839.0L2802.0 815.0" fill="none" stroke="#000" stroke-width="1.6" stroke-linejoin="round"/>
<path d="M2787.0 838.0L2804.0 818.0" fill="none" stroke="#000" stroke-width="1.6" stroke-linejoin="round"/>
<path d="M2791.0 830.0L2800.0 836.0" fill="none" stroke="#000" stroke-width="1.6" stroke-linejoin="round"/>
<path d="M2796.0 824.0L2805.0 830.0" fill="none" stroke="#000" stroke-width="1.6" stroke-linejoin="round"/>
<path d="M2810.0 820.8L2821.7 812.5" fill="none" stroke="#000" stroke-width="1.8" stroke-linejoin="round"/>
<path d="M2831.7 808.0L2845.0 804.0" fill="none" stroke="#000" stroke-width="1.8" stroke-linejoin="round"/>
<path d="M2835.0 800.0L2862.0 794.0" fill="none" stroke="#000" stroke-width="1.6" stroke-linejoin="round"/>
<circle cx="2805.0" cy="854.6" r="2.4" fill="#000" stroke="#000" stroke-width="0"/>
<path d="M2816.0 855.2L2882.0 857.7" fill="none" stroke="#000" stroke-width="2.0" stroke-linejoin="round"/>
<circle cx="2892.5" cy="858.0" r="2.4" fill="#000" stroke="#000" stroke-width="0"/>
<path d="M2903.5 858.5L2969.5 860.6" fill="none" stroke="#000" stroke-width="2.0" stroke-linejoin="round"/>
<circle cx="2980.0" cy="860.7" r="2.4" fill="#000" stroke="#000" stroke-width="0"/>
<path d="M2991.0 861.0L3057.0 862.5" fill="none" stroke="#000" stroke-width="2.0" stroke-linejoin="round"/>
<circle cx="3067.5" cy="862.6" r="2.4" fill="#000" stroke="#000" stroke-width="0"/>
<circle cx="3155.0" cy="864.5" r="2.4" fill="#000" stroke="#000" stroke-width="0"/>
<circle cx="3242.5" cy="866.4" r="2.4" fill="#000" stroke="#000" stroke-width="0"/>
<path d="M3253.5 866.7L3319.5 868.2" fill="none" stroke="#000" stroke-width="2.0" stroke-linejoin="round"/>
<circle cx="3330.0" cy="868.3" r="2.4" fill="#000" stroke="#000" stroke-width="0"/>
<path d="M3341.0 868.6L3407.0 870.1" fill="none" stroke="#000" stroke-width="2.0" stroke-linejoin="round"/>
<circle cx="3417.5" cy="870.2" r="2.4" fill="#000" stroke="#000" stroke-width="0"/>
<path d="M3428.5 870.5L3494.5 871.9" fill="none" stroke="#000" stroke-width="2.0" stroke-linejoin="round"/>
<circle cx="3505.0" cy="872.1" r="2.4" fill="#000" stroke="#000" stroke-width="0"/>
<path d="M3516.0 872.4L3582.0 873.9" fill="none" stroke="#000" stroke-width="2.0" stroke-linejoin="round"/>
<circle cx="3592.5" cy="874.1" r="2.4" fill="#000" stroke="#000" stroke-width="0"/>
<path d="M3603.5 874.4L3669.5 876.0" fill="none" stroke="#000" stroke-width="2.0" stroke-linejoin="round"/>
<circle cx="3680.0" cy="876.1" r="2.4" fill="#000" stroke="#000" stroke-width="0"/>
<path d="M3691.0 876.5L3757.0 878.0" fill="none" stroke="#000" stroke-width="2.0" stroke-linejoin="round"/>
<circle cx="3767.5" cy="878.2" r="2.4" fill="#000" stroke="#000" stroke-width="0"/>
<circle cx="3855.0" cy="880.3" r="2.4" fill="#000" stroke="#000" stroke-width="0"/>
<path d="M3866.0 880.6L3898.0 881.3" fill="none" stroke="#000" stroke-width="2.0" stroke-linejoin="round"/>
<path d="M2995 866 h10.5 v11.5 h-10.5 Z" fill="#fff" stroke="#000" stroke-width="2.0" stroke-linejoin="round"/>
<path d="M2996.5 880.0L2985.0 997.0" fill="none" stroke="#000" stroke-width="1.8" stroke-dasharray="17 8" stroke-linejoin="round"/>
<path d="M3004.0 880.0L2992.5 997.0" fill="none" stroke="#000" stroke-width="1.8" stroke-dasharray="17 8" stroke-linejoin="round"/>
<path d="M2978.5 992.5 h14 v15 h-14 Z" fill="#fff" stroke="#000" stroke-width="2.0" stroke-linejoin="round"/>
<path d="M2988.0 847.5L3123.0 849.0L3160.0 831.0L3198.0 855.0" fill="none" stroke="#000" stroke-width="2.0" stroke-linejoin="round"/>
<path d="M3008.0 850.0C3016.3 850.8 3041.3 853.7 3058.0 855.0C3074.7 856.3 3095.5 858.5 3108.0 858.0C3120.5 857.5 3124.7 853.4 3133.0 851.7C3141.3 850.0 3149.7 848.5 3158.0 848.0C3166.3 847.5 3177.2 848.4 3183.0 849.0C3188.8 849.6 3191.3 851.2 3193.0 851.7" fill="none" stroke="#000" stroke-width="1.8" stroke-linejoin="round"/>
<path d="M3006.7 856.7C3016.7 857.5 3049.2 860.3 3066.7 861.7C3084.2 863.1 3100.0 865.3 3111.7 865.0C3123.4 864.7 3129.0 861.5 3136.7 860.0C3144.4 858.5 3151.6 856.7 3158.0 856.0C3164.4 855.3 3172.2 856.0 3175.0 856.0" fill="none" stroke="#000" stroke-width="1.8" stroke-linejoin="round"/>
<path d="M3148.0 840.0L3170.0 840.0" fill="none" stroke="#000" stroke-width="1.6" stroke-linejoin="round"/>
<path d="M3153.0 843.5L3164.0 843.5" fill="none" stroke="#000" stroke-width="1.6" stroke-linejoin="round"/>
<path d="M3158.5 843.5L3158.5 849.0" fill="none" stroke="#000" stroke-width="1.6" stroke-linejoin="round"/>
<path d="M3005.0 866.5L3043.0 867.0" fill="none" stroke="#000" stroke-width="4.5" stroke-linejoin="round"/>
<path d="M3012.0 851.0L3100.0 852.5" fill="none" stroke="#000" stroke-width="3.0" stroke-linejoin="round"/>
<circle cx="3202.5" cy="860.0" r="6.8" fill="#fff" stroke="#000" stroke-width="2.2"/>
<path d="M3210.0 859.0L3221.0 859.0" fill="none" stroke="#000" stroke-width="2" stroke-linejoin="round"/>
<circle cx="3181.7" cy="862.5" r="7.0" fill="#000" stroke="#000" stroke-width="0"/>
<path d="M3166.0 858.5L3175.0 858.5" fill="none" stroke="#000" stroke-width="2" stroke-linejoin="round"/>
<path d="M3166.0 864.5L3175.0 864.5" fill="none" stroke="#000" stroke-width="2" stroke-linejoin="round"/>
<path d="M2900.0 860.0L2952.0 857.5" fill="none" stroke="#000" stroke-width="3.0" stroke-dasharray="34 12" stroke-linejoin="round"/>
<path d="M2962.0 856.0L2990.0 857.0" fill="none" stroke="#000" stroke-width="2.0" stroke-linejoin="round"/>
<path d="M3719 862.3 h16 v15 h-16 Z" fill="#fff" stroke="#000" stroke-width="2.0" stroke-linejoin="round"/>
<circle cx="3747.0" cy="871.2" r="8.0" fill="#000" stroke="#000" stroke-width="0"/>
<circle cx="3763.3" cy="875.3" r="7.2" fill="#fff" stroke="#000" stroke-width="2.2"/>
<path d="M3771.0 875.0L3782.0 875.5" fill="none" stroke="#000" stroke-width="2" stroke-linejoin="round"/>
<path d="M3724.5 880.0L3719.0 1018.0" fill="none" stroke="#000" stroke-width="1.8" stroke-dasharray="30 9" stroke-linejoin="round"/>
<path d="M3731.0 880.0L3725.5 1018.0" fill="none" stroke="#000" stroke-width="1.8" stroke-dasharray="30 9" stroke-linejoin="round"/>
<path d="M3713.5 1020 h17 v15 h-17 Z" fill="#fff" stroke="#000" stroke-width="2.0" stroke-linejoin="round"/>
<path d="M3739.0 1013.0L3739.0 1048.0L3786.0 1048.0L3786.0 1014.0" fill="none" stroke="#000" stroke-width="2.0" stroke-linejoin="round"/>
<path d="M3799 1020 h14 v14 h-14 Z" fill="#fff" stroke="#000" stroke-width="2.0" stroke-linejoin="round"/>
<path d="M3731.0 1024.0L3799.0 1024.5" fill="none" stroke="#000" stroke-width="2.0" stroke-dasharray="10 6" stroke-linejoin="round"/>
<path d="M3731.0 1030.0L3799.0 1030.5" fill="none" stroke="#000" stroke-width="2.0" stroke-dasharray="10 6" stroke-linejoin="round"/>
<path d="M3673.5 925.0L3673.5 947.0" fill="none" stroke="#000" stroke-width="1.6" stroke-linejoin="round"/>
<path d="M3690.0 914.0L3690.0 931.0" fill="none" stroke="#000" stroke-width="1.6" stroke-linejoin="round"/>
<path d="M2992.5 996.0L3493.0 1007.5L3715.0 1012.5L3902.0 1015.0" fill="none" stroke="#000" stroke-width="2.0" stroke-linejoin="round"/>
<path d="M2992.0 1000.0C3018.3 1003.3 3098.7 1014.8 3150.0 1020.0C3201.3 1025.2 3258.3 1028.7 3300.0 1031.0C3341.7 1033.3 3367.8 1034.2 3400.0 1034.0C3432.2 1033.8 3459.7 1031.5 3493.0 1030.0C3526.3 1028.5 3563.5 1026.5 3600.0 1025.0C3636.5 1023.5 3693.3 1021.7 3712.0 1021.0" fill="none" stroke="#000" stroke-width="1.8" stroke-linejoin="round"/>
<path d="M2992.0 1004.0C3018.3 1007.5 3098.7 1019.7 3150.0 1025.0C3201.3 1030.3 3258.3 1033.7 3300.0 1036.0C3341.7 1038.3 3367.8 1039.0 3400.0 1039.0C3432.2 1039.0 3459.7 1037.2 3493.0 1036.0C3526.3 1034.8 3563.5 1033.0 3600.0 1032.0C3636.5 1031.0 3693.3 1030.3 3712.0 1030.0" fill="none" stroke="#000" stroke-width="1.8" stroke-linejoin="round"/>
<path d="M3813.0 1024.0L3900.0 1024.0" fill="none" stroke="#000" stroke-width="1.8" stroke-linejoin="round"/>
<path d="M3813.0 1030.0L3900.0 1030.0" fill="none" stroke="#000" stroke-width="1.8" stroke-linejoin="round"/>
<path d="M3129.0 1001.0L3165.0 1001.0" fill="none" stroke="#000" stroke-width="1.8" stroke-linejoin="round"/>
<path d="M3136.9 1006.5L3157.1 1006.5" fill="none" stroke="#000" stroke-width="1.8" stroke-linejoin="round"/>
<path d="M3147.0 1006.5L3147.0 1014.5" fill="none" stroke="#000" stroke-width="1.8" stroke-linejoin="round"/>
<path d="M3194.0 1002.4L3230.0 1002.4" fill="none" stroke="#000" stroke-width="1.8" stroke-linejoin="round"/>
<path d="M3201.9 1007.9L3222.1 1007.9" fill="none" stroke="#000" stroke-width="1.8" stroke-linejoin="round"/>
<path d="M3212.0 1007.9L3212.0 1015.9" fill="none" stroke="#000" stroke-width="1.8" stroke-linejoin="round"/>
<path d="M3267.0 1004.0L3303.0 1004.0" fill="none" stroke="#000" stroke-width="1.8" stroke-linejoin="round"/>
<path d="M3274.9 1009.5L3295.1 1009.5" fill="none" stroke="#000" stroke-width="1.8" stroke-linejoin="round"/>
<path d="M3285.0 1009.5L3285.0 1017.5" fill="none" stroke="#000" stroke-width="1.8" stroke-linejoin="round"/>
<path d="M3344.0 1005.7L3380.0 1005.7" fill="none" stroke="#000" stroke-width="1.8" stroke-linejoin="round"/>
<path d="M3351.9 1011.2L3372.1 1011.2" fill="none" stroke="#000" stroke-width="1.8" stroke-linejoin="round"/>
<path d="M3362.0 1011.2L3362.0 1019.2" fill="none" stroke="#000" stroke-width="1.8" stroke-linejoin="round"/>
<path d="M3418.0 1007.4L3454.0 1007.4" fill="none" stroke="#000" stroke-width="1.8" stroke-linejoin="round"/>
<path d="M3425.9 1012.9L3446.1 1012.9" fill="none" stroke="#000" stroke-width="1.8" stroke-linejoin="round"/>
<path d="M3436.0 1012.9L3436.0 1020.9" fill="none" stroke="#000" stroke-width="1.8" stroke-linejoin="round"/>
<path d="M3502.0 1009.2L3538.0 1009.2" fill="none" stroke="#000" stroke-width="1.8" stroke-linejoin="round"/>
<path d="M3509.9 1014.7L3530.1 1014.7" fill="none" stroke="#000" stroke-width="1.8" stroke-linejoin="round"/>
<path d="M3520.0 1014.7L3520.0 1020.7" fill="none" stroke="#000" stroke-width="1.8" stroke-linejoin="round"/>
<path d="M3572.0 1010.7L3608.0 1010.7" fill="none" stroke="#000" stroke-width="1.8" stroke-linejoin="round"/>
<path d="M3579.9 1016.2L3600.1 1016.2" fill="none" stroke="#000" stroke-width="1.8" stroke-linejoin="round"/>
<path d="M3590.0 1016.2L3590.0 1022.2" fill="none" stroke="#000" stroke-width="1.8" stroke-linejoin="round"/>
<path d="M3632.0 1012.1L3668.0 1012.1" fill="none" stroke="#000" stroke-width="1.8" stroke-linejoin="round"/>
<path d="M3639.9 1017.6L3660.1 1017.6" fill="none" stroke="#000" stroke-width="1.8" stroke-linejoin="round"/>
<path d="M3650.0 1017.6L3650.0 1023.6" fill="none" stroke="#000" stroke-width="1.8" stroke-linejoin="round"/>
<path d="M2850.0 985.0L2955.0 986.0L2975.0 998.0" fill="none" stroke="#000" stroke-width="2.4" stroke-dasharray="27 11" stroke-linejoin="round"/>
<path d="M2850.0 991.5L2955.0 993.0L2978.0 1005.0" fill="none" stroke="#000" stroke-width="2.0" stroke-linejoin="round"/>
<path d="M2850.0 999.0L2970.0 1003.0" fill="none" stroke="#000" stroke-width="2.0" stroke-linejoin="round"/>
<path d="M2850.0 1007.5L2975.0 1006.0" fill="none" stroke="#000" stroke-width="2.0" stroke-linejoin="round"/>
<path d="M695.0 1270.0C704.8 1264.2 735.2 1245.4 754.0 1235.0C772.8 1224.6 787.4 1216.1 807.5 1207.6C827.6 1199.1 852.1 1190.7 874.4 1184.0C896.6 1177.3 918.7 1172.5 941.0 1167.5C963.3 1162.5 980.1 1157.6 1008.0 1154.0C1035.9 1150.4 1075.0 1147.9 1108.5 1145.8C1142.0 1143.7 1181.1 1142.3 1209.0 1141.5C1236.9 1140.7 1253.5 1140.0 1275.8 1141.0C1298.1 1142.0 1322.0 1145.5 1342.7 1147.4C1363.4 1149.3 1381.6 1150.8 1400.0 1152.4C1418.4 1154.0 1434.2 1153.9 1453.0 1157.0C1471.8 1160.1 1490.5 1162.8 1513.0 1171.0C1535.5 1179.2 1567.2 1195.6 1588.0 1206.0C1608.8 1216.4 1623.0 1226.8 1638.0 1233.5C1653.0 1240.2 1656.3 1242.2 1678.0 1246.0C1699.7 1249.8 1742.6 1252.0 1768.0 1256.0C1793.4 1260.0 1820.1 1267.7 1830.5 1270.0" fill="none" stroke="#000" stroke-width="4.0" stroke-linecap="round" stroke-linejoin="round"/>
<path d="M571.0 1242.5C582.5 1239.8 616.0 1232.7 640.0 1226.0C664.0 1219.3 694.2 1209.8 715.0 1202.5C735.8 1195.2 748.3 1188.8 765.0 1182.5C781.7 1176.2 798.3 1170.8 815.0 1165.0C831.7 1159.2 848.3 1152.9 865.0 1147.5C881.7 1142.1 894.2 1137.2 915.0 1132.5C935.8 1127.8 960.8 1122.3 990.0 1119.0C1019.2 1115.7 1057.8 1113.2 1090.0 1112.5C1122.2 1111.8 1150.0 1113.1 1183.0 1114.5C1216.0 1115.9 1245.5 1116.6 1288.0 1121.0C1330.5 1125.4 1402.2 1136.0 1438.0 1141.0C1473.8 1146.0 1481.3 1148.5 1503.0 1151.0C1524.7 1153.5 1545.5 1152.7 1568.0 1156.0C1590.5 1159.3 1613.8 1164.8 1638.0 1171.0C1662.2 1177.2 1694.7 1186.0 1713.0 1193.5C1731.3 1201.0 1739.2 1206.6 1748.0 1216.0C1756.8 1225.4 1763.0 1244.3 1766.0 1250.0" fill="none" stroke="#000" stroke-width="3.2" stroke-dasharray="0.1 10.5" stroke-linecap="round" stroke-linejoin="round"/>
<path d="M1587.0 889.0C1580.8 890.8 1566.7 896.2 1550.0 900.0C1533.3 903.8 1501.2 907.8 1487.0 912.0C1472.8 916.2 1467.8 920.3 1465.0 925.0C1462.2 929.7 1464.2 934.5 1470.0 940.0C1475.8 945.5 1494.0 951.3 1500.0 958.0C1506.0 964.7 1506.8 973.0 1506.0 980.0C1505.2 987.0 1501.8 994.2 1495.0 1000.0C1488.2 1005.8 1480.8 1010.0 1465.0 1015.0C1449.2 1020.0 1417.7 1026.0 1400.0 1030.0C1382.3 1034.0 1374.2 1034.7 1359.0 1038.7C1343.8 1042.7 1328.5 1048.0 1309.0 1053.8C1289.5 1059.6 1264.3 1069.1 1242.0 1073.8C1219.7 1078.5 1203.2 1080.3 1175.4 1082.0C1147.6 1083.7 1108.4 1080.8 1075.0 1083.9C1041.6 1087.0 1005.5 1093.9 974.8 1100.6C944.1 1107.3 913.3 1116.8 891.0 1124.0C868.7 1131.2 857.7 1135.1 841.0 1144.0C824.3 1152.9 815.9 1162.3 790.8 1177.5C765.7 1192.7 718.0 1219.2 690.5 1235.0C663.0 1250.8 636.8 1266.2 626.0 1272.5" fill="none" stroke="#000" stroke-width="1.8" stroke-linejoin="round"/>
<path d="M597.9 1254.0 h0.1M597.4 1267.5 h0.1M609.7 1261.6 h0.1M610.5 1240.6 h0.1M610.1 1239.7 h0.1M618.5 1238.8 h0.1M623.0 1255.3 h0.1M619.3 1241.3 h0.1M634.2 1263.8 h0.1M630.9 1261.3 h0.1M644.2 1232.8 h0.1M639.9 1245.3 h0.1M640.9 1236.5 h0.1M650.6 1271.9 h0.1M653.3 1259.0 h0.1M652.8 1247.5 h0.1M660.4 1227.4 h0.1M664.1 1235.8 h0.1M661.9 1248.7 h0.1M673.2 1256.5 h0.1M675.3 1238.9 h0.1M672.0 1263.5 h0.1M673.7 1255.8 h0.1M685.4 1273.9 h0.1M686.9 1235.9 h0.1M683.5 1224.9 h0.1M681.9 1266.3 h0.1M691.7 1247.2 h0.1M696.1 1259.4 h0.1M696.8 1252.9 h0.1M695.7 1235.3 h0.1M705.5 1240.6 h0.1M707.0 1233.6 h0.1M704.8 1258.3 h0.1M712.9 1238.9 h0.1M716.4 1240.6 h0.1M717.4 1254.5 h0.1M725.3 1216.1 h0.1M723.1 1233.5 h0.1M724.0 1224.1 h0.1M733.9 1204.0 h0.1M734.3 1232.3 h0.1M735.8 1209.7 h0.1M744.5 1230.8 h0.1M747.3 1213.3 h0.1M759.4 1225.6 h0.1M756.2 1224.8 h0.1M767.2 1202.4 h0.1M770.7 1220.4 h0.1M776.6 1188.3 h0.1M776.9 1191.3 h0.1M789.5 1196.1 h0.1M786.0 1188.3 h0.1M798.7 1189.4 h0.1M802.2 1194.3 h0.1M810.1 1193.8 h0.1M811.1 1191.5 h0.1M822.9 1169.8 h0.1M822.7 1193.0 h0.1M830.4 1189.9 h0.1M828.6 1177.1 h0.1M838.9 1180.9 h0.1M839.8 1162.9 h0.1M851.0 1162.2 h0.1M849.0 1158.7 h0.1M860.1 1158.2 h0.1M859.7 1164.9 h0.1M873.7 1177.5 h0.1M871.5 1154.8 h0.1M882.7 1158.0 h0.1M885.6 1150.9 h0.1M893.8 1175.9 h0.1M891.5 1159.4 h0.1M903.6 1144.0 h0.1M906.5 1149.4 h0.1M912.1 1142.9 h0.1M915.2 1169.3 h0.1M925.8 1140.4 h0.1M925.7 1136.5 h0.1M938.2 1165.1 h0.1M934.6 1156.0 h0.1M944.5 1143.4 h0.1M946.7 1156.2 h0.1M956.0 1154.4 h0.1M958.9 1136.9 h0.1M969.6 1158.7 h0.1M969.4 1153.1 h0.1M976.4 1149.0 h0.1M977.1 1142.1 h0.1M985.7 1125.2 h0.1M987.1 1132.8 h0.1M1001.7 1143.8 h0.1M1001.6 1136.6 h0.1M1012.2 1150.5 h0.1M1007.8 1133.0 h0.1M1018.2 1128.4 h0.1M1020.7 1127.8 h0.1M1032.5 1146.4 h0.1M1031.4 1134.7 h0.1M1038.5 1142.8 h0.1M1043.5 1138.9 h0.1M1053.0 1141.5 h0.1M1049.6 1133.1 h0.1M1061.0 1140.8 h0.1M1064.8 1141.2 h0.1M1071.9 1129.4 h0.1M1073.8 1144.3 h0.1M1080.8 1122.5 h0.1M1085.4 1122.0 h0.1M1091.4 1138.9 h0.1M1096.4 1139.4 h0.1M1103.1 1134.5 h0.1M1112.3 1131.5 h0.1M1127.8 1118.6 h0.1M1135.7 1133.5 h0.1M1145.6 1139.7 h0.1M1158.5 1137.9 h0.1M1165.5 1123.6 h0.1M1175.9 1125.4 h0.1M1186.6 1131.3 h0.1M1196.3 1128.2 h0.1M1208.1 1136.9 h0.1M1220.0 1129.4 h0.1M1229.5 1136.8 h0.1M1240.5 1137.0 h0.1M1251.1 1131.4 h0.1M1261.1 1124.6 h0.1M1269.0 1127.4 h0.1M1280.5 1136.0 h0.1M1294.4 1132.8 h0.1M1302.5 1135.1 h0.1M1314.3 1135.8 h0.1M1322.1 1140.1 h0.1M1333.5 1138.7 h0.1M1347.1 1136.7 h0.1M1356.4 1140.4 h0.1M1369.0 1144.1 h0.1M1377.7 1142.1 h0.1M1387.6 1143.8 h0.1M1397.7 1146.6 h0.1M1408.4 1146.4 h0.1M1420.2 1150.6 h0.1M1432.2 1151.1 h0.1M1440.4 1148.0 h0.1M1452.5 1153.5 h0.1M1458.7 1150.4 h0.1M1468.9 1154.3 h0.1M1479.4 1154.7 h0.1M1494.2 1160.3 h0.1M1500.9 1164.7 h0.1M1514.5 1165.0 h0.1M1526.3 1159.8 h0.1M1532.8 1177.4 h0.1M1544.4 1181.8 h0.1M1558.4 1173.6 h0.1M1553.5 1183.2 h0.1M1566.1 1174.6 h0.1M1564.2 1171.7 h0.1M1577.8 1173.9 h0.1M1576.8 1163.5 h0.1M1584.1 1181.6 h0.1M1587.7 1177.5 h0.1M1594.9 1188.3 h0.1M1599.2 1207.6 h0.1M1605.6 1212.7 h0.1M1605.2 1181.4 h0.1M1606.6 1204.2 h0.1M1618.0 1178.0 h0.1M1620.4 1215.5 h0.1M1616.4 1184.2 h0.1M1629.4 1221.4 h0.1M1626.5 1210.1 h0.1M1630.1 1177.0 h0.1M1636.9 1199.6 h0.1M1640.3 1227.6 h0.1M1637.0 1220.2 h0.1M1647.4 1226.4 h0.1M1649.7 1226.8 h0.1M1650.3 1198.1 h0.1M1659.1 1233.5 h0.1M1660.7 1189.8 h0.1M1658.2 1195.8 h0.1M1668.3 1194.8 h0.1M1669.9 1197.0 h0.1M1672.6 1202.6 h0.1M1681.5 1204.8 h0.1M1680.6 1198.7 h0.1M1680.0 1190.0 h0.1M1693.4 1193.0 h0.1M1690.1 1221.1 h0.1M1694.6 1217.1 h0.1M1704.4 1200.7 h0.1M1702.5 1217.1 h0.1M1701.9 1237.4 h0.1M1714.1 1223.0 h0.1M1712.1 1246.0 h0.1M1714.2 1238.8 h0.1M1722.9 1232.5 h0.1M1720.8 1220.1 h0.1M1731.4 1216.8 h0.1M1732.5 1239.6 h0.1M1742.0 1223.9 h0.1M1746.7 1245.4 h0.1M1753.7 1245.8 h0.1M1764.3 1253.7 h0.1M700.0 1262.5 h0.1M710.5 1255.6 h0.1M721.0 1250.0 h0.1M731.5 1243.4 h0.1M742.0 1238.5 h0.1M752.5 1232.3 h0.1M763.0 1226.0 h0.1M773.5 1220.0 h0.1M784.0 1216.1 h0.1M794.5 1209.4 h0.1M805.0 1204.1 h0.1M815.5 1199.3 h0.1M826.0 1196.3 h0.1M836.5 1192.8 h0.1M847.0 1189.2 h0.1M857.5 1184.9 h0.1M868.0 1181.8 h0.1M878.5 1177.5 h0.1M889.0 1175.4 h0.1M899.5 1172.5 h0.1M910.0 1170.5 h0.1M920.5 1167.2 h0.1M931.0 1164.5 h0.1M941.5 1162.5 h0.1M952.0 1160.2 h0.1M962.5 1158.8 h0.1M973.0 1156.6 h0.1M983.5 1154.9 h0.1M994.0 1152.6 h0.1M1004.5 1150.6 h0.1M1015.0 1149.7 h0.1M1025.5 1147.9 h0.1M1036.0 1146.9 h0.1M1046.5 1147.3 h0.1M1057.0 1144.8 h0.1M1067.5 1145.1 h0.1M1078.0 1144.1 h0.1M1088.5 1142.0 h0.1M1099.0 1142.7 h0.1M1109.5 1142.0 h0.1M1120.0 1141.1 h0.1M1130.5 1140.8 h0.1M1141.0 1140.5 h0.1M1151.5 1138.7 h0.1M1162.0 1139.1 h0.1M1172.5 1138.6 h0.1M1183.0 1138.8 h0.1M1193.5 1138.3 h0.1M1204.0 1137.9 h0.1M1214.5 1137.1 h0.1M1225.0 1137.7 h0.1M1235.5 1137.2 h0.1M1246.0 1137.1 h0.1M1256.5 1136.1 h0.1M1267.0 1135.6 h0.1M1277.5 1135.9 h0.1M1288.0 1137.4 h0.1M1298.5 1137.9 h0.1M1309.0 1140.3 h0.1M1319.5 1140.8 h0.1M1330.0 1141.9 h0.1M1340.5 1142.9 h0.1M1351.0 1144.0 h0.1M1361.5 1144.5 h0.1M1372.0 1144.5 h0.1M1382.5 1147.0 h0.1M1393.0 1147.8 h0.1M1403.5 1148.2 h0.1M1414.0 1149.2 h0.1M1424.5 1150.3 h0.1M1435.0 1150.1 h0.1M1445.5 1152.3 h0.1M1456.0 1152.7 h0.1M1466.5 1154.8 h0.1M1477.0 1157.6 h0.1M1487.5 1161.0 h0.1M1498.0 1162.4 h0.1M1508.5 1165.9 h0.1M1519.0 1170.3 h0.1M1529.5 1174.2 h0.1M1540.0 1178.9 h0.1M1550.5 1184.0 h0.1M1561.0 1189.3 h0.1M1571.5 1194.3 h0.1M1582.0 1198.9 h0.1M1592.5 1204.3 h0.1M1603.0 1208.9 h0.1M1613.5 1214.8 h0.1M1624.0 1220.8 h0.1M1634.5 1227.6 h0.1M1645.0 1230.8 h0.1M1655.5 1234.6 h0.1M1666.0 1236.8 h0.1M1676.5 1240.2 h0.1M1687.0 1242.0 h0.1M1697.5 1244.0 h0.1M1708.0 1245.2 h0.1M1718.5 1246.4 h0.1M1729.0 1246.7 h0.1M1739.5 1248.4 h0.1M1750.0 1249.4 h0.1M1760.5 1250.6 h0.1" stroke="#000" stroke-width="3.1" stroke-linecap="round" fill="none"/>
<path d="M1020.0 1270.0C1033.3 1267.5 1070.0 1259.8 1100.0 1255.0C1130.0 1250.2 1176.7 1244.2 1200.0 1241.0C1223.3 1237.8 1227.5 1235.8 1240.0 1236.0C1252.5 1236.2 1265.3 1238.8 1275.0 1242.5C1284.7 1246.2 1292.8 1253.4 1298.0 1258.0C1303.2 1262.6 1304.7 1268.0 1306.0 1270.0" fill="none" stroke="#000" stroke-width="2.2" stroke-linejoin="round"/>
<path d="M1042.4 1270.9 h0.1M1042.9 1271.4 h0.1M1046.8 1269.1 h0.1M1059.6 1270.7 h0.1M1063.7 1268.3 h0.1M1068.5 1267.3 h0.1M1068.1 1266.6 h0.1M1076.9 1265.3 h0.1M1084.3 1269.3 h0.1M1080.4 1272.0 h0.1M1086.1 1268.3 h0.1M1096.0 1259.8 h0.1M1094.8 1267.1 h0.1M1102.1 1261.0 h0.1M1105.0 1264.1 h0.1M1111.5 1257.6 h0.1M1119.6 1258.9 h0.1M1119.4 1270.4 h0.1M1123.2 1261.5 h0.1M1127.0 1263.6 h0.1M1130.2 1267.2 h0.1M1129.7 1263.8 h0.1M1135.6 1254.7 h0.1M1147.6 1259.0 h0.1M1143.6 1258.2 h0.1M1150.1 1263.0 h0.1M1154.7 1259.9 h0.1M1160.9 1270.2 h0.1M1161.5 1264.6 h0.1M1166.3 1270.5 h0.1M1163.3 1265.6 h0.1M1172.7 1264.9 h0.1M1173.9 1265.3 h0.1M1177.3 1254.1 h0.1M1177.8 1268.2 h0.1M1186.1 1257.2 h0.1M1188.4 1253.4 h0.1M1192.6 1267.3 h0.1M1192.8 1260.3 h0.1M1200.4 1257.1 h0.1M1199.0 1248.6 h0.1M1210.4 1248.6 h0.1M1206.3 1254.9 h0.1M1218.0 1263.1 h0.1M1212.8 1253.0 h0.1M1219.5 1246.5 h0.1M1219.5 1249.8 h0.1M1227.6 1246.6 h0.1M1231.3 1253.9 h0.1M1235.5 1257.0 h0.1M1236.1 1249.6 h0.1M1242.0 1248.8 h0.1M1241.7 1241.9 h0.1M1247.8 1263.1 h0.1M1250.8 1252.9 h0.1M1255.3 1262.1 h0.1M1255.5 1249.1 h0.1M1263.7 1253.3 h0.1M1266.1 1265.4 h0.1M1268.1 1265.0 h0.1M1272.3 1246.5 h0.1M1277.8 1268.2 h0.1M1275.0 1261.4 h0.1M1287.6 1261.9 h0.1M1287.1 1271.4 h0.1M1289.7 1262.4 h0.1M1299.1 1265.4 h0.1" stroke="#000" stroke-width="2.2" stroke-linecap="round" fill="none"/>
<path d="M1503.0 1166.0C1513.8 1158.5 1540.5 1131.8 1568.0 1121.0C1595.5 1110.2 1646.0 1105.2 1668.0 1101.0C1690.0 1096.8 1684.3 1096.6 1700.0 1096.0C1715.7 1095.4 1743.3 1097.0 1762.0 1097.5C1780.7 1098.0 1793.2 1100.2 1812.0 1099.0C1830.8 1097.8 1852.0 1094.4 1875.0 1090.0C1898.0 1085.6 1927.2 1076.7 1950.0 1072.5C1972.8 1068.3 1987.0 1066.7 2012.0 1065.0C2037.0 1063.3 2072.8 1063.5 2100.0 1062.5C2127.2 1061.5 2155.0 1061.1 2175.0 1059.0C2195.0 1056.9 2209.7 1054.0 2220.0 1050.0C2230.3 1046.0 2232.8 1041.2 2237.0 1035.0C2241.2 1028.8 2243.5 1019.6 2245.0 1012.5C2246.5 1005.4 2245.8 995.8 2246.0 992.5" fill="none" stroke="#000" stroke-width="1.8" stroke-linejoin="round"/>
<path d="M1678.0 1246.0C1682.2 1243.5 1693.0 1234.3 1703.0 1231.0C1713.0 1227.7 1712.2 1226.8 1738.0 1226.0C1763.8 1225.2 1833.0 1227.7 1858.0 1226.0C1883.0 1224.3 1874.7 1221.0 1888.0 1216.0C1901.3 1211.0 1917.2 1201.8 1938.0 1196.0C1958.8 1190.2 1990.2 1184.1 2013.0 1181.0C2035.8 1177.9 2064.7 1178.1 2075.0 1177.5" fill="none" stroke="#000" stroke-width="3.4" stroke-linecap="round" stroke-linejoin="round"/>
<path d="M2133.0 1177.5C2152.5 1178.3 2213.8 1181.1 2250.0 1182.5C2286.2 1183.9 2320.8 1186.4 2350.0 1186.0C2379.2 1185.6 2403.3 1184.3 2425.0 1180.0C2446.7 1175.7 2465.8 1168.3 2480.0 1160.0C2494.2 1151.7 2502.9 1143.3 2510.0 1130.0C2517.1 1116.7 2520.8 1095.0 2522.5 1080.0C2524.2 1065.0 2522.9 1053.3 2520.0 1040.0C2517.1 1026.7 2508.3 1008.3 2505.0 1000.0C2501.7 991.7 2500.8 991.7 2500.0 990.0" fill="none" stroke="#000" stroke-width="3.4" stroke-linecap="round" stroke-linejoin="round"/>
<text transform="translate(2079.0 1188.0) skewX(-18.0) scale(1.050 1)" font-family="Liberation Sans" font-size="27.0" font-weight="normal" text-anchor="start" letter-spacing="0" stroke="#000" stroke-width="0.90">955</text>
<path d="M2870.0 1007.5C2875.0 1011.2 2893.8 1022.9 2900.0 1030.0C2906.2 1037.1 2909.2 1043.3 2907.5 1050.0C2905.8 1056.7 2903.8 1063.8 2890.0 1070.0C2876.2 1076.2 2848.3 1082.5 2825.0 1087.5C2801.7 1092.5 2769.2 1093.8 2750.0 1100.0C2730.8 1106.2 2718.3 1117.5 2710.0 1125.0C2701.7 1132.5 2698.3 1139.6 2700.0 1145.0C2701.7 1150.4 2703.3 1154.6 2720.0 1157.5C2736.7 1160.4 2777.5 1159.6 2800.0 1162.5C2822.5 1165.4 2844.2 1170.8 2855.0 1175.0C2865.8 1179.2 2867.5 1183.3 2865.0 1187.5C2862.5 1191.7 2855.0 1195.8 2840.0 1200.0C2825.0 1204.2 2794.2 1207.9 2775.0 1212.5C2755.8 1217.1 2734.6 1222.1 2725.0 1227.5C2715.4 1232.9 2716.7 1236.2 2717.5 1245.0C2718.3 1253.8 2725.8 1268.3 2730.0 1280.0C2734.2 1291.7 2739.6 1302.5 2742.5 1315.0C2745.4 1327.5 2747.5 1342.5 2747.5 1355.0C2747.5 1367.5 2743.3 1384.2 2742.5 1390.0" fill="none" stroke="#000" stroke-width="1.8" stroke-linejoin="round"/>
<text x="1030.0" y="1224.0" font-family="'Liberation Serif','Noto Serif CJK SC',serif" font-size="42" font-weight="normal" text-anchor="start">秋</text>
<text x="1134.0" y="1211.0" font-family="'Liberation Serif','Noto Serif CJK SC',serif" font-size="42" font-weight="normal" text-anchor="start">神</text>
<text x="1240.0" y="1202.0" font-family="'Liberation Serif','Noto Serif CJK SC',serif" font-size="40" font-weight="normal" text-anchor="start">川</text>
<path d="M1342.5 1187.5L1392.0 1202.0" fill="none" stroke="#000" stroke-width="4.2" stroke-linejoin="round"/>
<path d="M1403.0 1206.0L1386.0 1195.0L1383.0 1209.0Z" fill="#000" stroke="#000" stroke-width="1" stroke-linejoin="round"/>
<circle cx="732.0" cy="1037.0" r="5.5" fill="none" stroke="#000" stroke-width="1.8"/>
<path d="M730.0 1043.5L742.0 1043.5" fill="none" stroke="#000" stroke-width="1.8" stroke-linejoin="round"/>
<circle cx="1225.6" cy="1011.0" r="5.5" fill="none" stroke="#000" stroke-width="1.8"/>
<path d="M1223.6 1017.5L1235.6 1017.5" fill="none" stroke="#000" stroke-width="1.8" stroke-linejoin="round"/>
<circle cx="1739.0" cy="1015.0" r="5.5" fill="none" stroke="#000" stroke-width="1.8"/>
<path d="M1737.0 1021.5L1749.0 1021.5" fill="none" stroke="#000" stroke-width="1.8" stroke-linejoin="round"/>
<rect x="634.0" y="660.0" width="40.0" height="24.0" fill="#fff" transform="rotate(0.0 654.0 672.0)"/>
<path d="M643.0 685.0 L649.0 658.0 L654.0 685.0 M651.0 685.0 L663.0 685.0" fill="none" stroke="#000" stroke-width="2.0" stroke-linejoin="round"/>
<rect x="1012.0" y="675.5" width="40.0" height="24.0" fill="#fff" transform="rotate(0.0 1032.0 687.5)"/>
<path d="M1021.0 700.5 L1027.0 673.5 L1032.0 700.5 M1029.0 700.5 L1041.0 700.5" fill="none" stroke="#000" stroke-width="2.0" stroke-linejoin="round"/>
<rect x="1350.0" y="619.5" width="40.0" height="24.0" fill="#fff" transform="rotate(0.0 1370.0 631.5)"/>
<path d="M1359.0 644.5 L1365.0 617.5 L1370.0 644.5 M1367.0 644.5 L1379.0 644.5" fill="none" stroke="#000" stroke-width="2.0" stroke-linejoin="round"/>
<rect x="1808.0" y="640.5" width="40.0" height="24.0" fill="#fff" transform="rotate(0.0 1828.0 652.5)"/>
<path d="M1817.0 665.5 L1823.0 638.5 L1828.0 665.5 M1825.0 665.5 L1837.0 665.5" fill="none" stroke="#000" stroke-width="2.0" stroke-linejoin="round"/>
<rect x="2235.0" y="635.0" width="40.0" height="24.0" fill="#fff" transform="rotate(0.0 2255.0 647.0)"/>
<path d="M2244.0 660.0 L2250.0 633.0 L2255.0 660.0 M2252.0 660.0 L2264.0 660.0" fill="none" stroke="#000" stroke-width="2.0" stroke-linejoin="round"/>
<path d="M2215.0 785.0 L2221.0 758.0 L2226.0 785.0 M2223.0 785.0 L2235.0 785.0" fill="none" stroke="#000" stroke-width="2.0" stroke-linejoin="round"/>
<path d="M2683.0 659.0 L2689.0 632.0 L2694.0 659.0 M2691.0 659.0 L2703.0 659.0" fill="none" stroke="#000" stroke-width="2.0" stroke-linejoin="round"/>
<path d="M2304.0 1079.0 L2310.0 1052.0 L2315.0 1079.0 M2312.0 1079.0 L2324.0 1079.0" fill="none" stroke="#000" stroke-width="2.0" stroke-linejoin="round"/>
<path d="M2708.0 1071.0 L2714.0 1044.0 L2719.0 1071.0 M2716.0 1071.0 L2728.0 1071.0" fill="none" stroke="#000" stroke-width="2.0" stroke-linejoin="round"/>
<path d="M3012.0 1166.0 L3018.0 1139.0 L3023.0 1166.0 M3020.0 1166.0 L3032.0 1166.0" fill="none" stroke="#000" stroke-width="2.0" stroke-linejoin="round"/>
<path d="M1139.9 845.0 v-8.1 M1148.0 845.0 v-17.1 M1156.1 845.0 v-9.9" fill="none" stroke="#000" stroke-width="2.0" stroke-linejoin="round"/>
<path d="M1573.9 820.0 v-8.1 M1582.0 820.0 v-17.1 M1590.1 820.0 v-9.9" fill="none" stroke="#000" stroke-width="2.0" stroke-linejoin="round"/>
<path d="M1878.9 797.0 v-8.1 M1887.0 797.0 v-17.1 M1895.1 797.0 v-9.9" fill="none" stroke="#000" stroke-width="2.0" stroke-linejoin="round"/>
<path d="M3083.0 663.0 v-9.0 M3092.0 663.0 v-19.0 M3101.0 663.0 v-11.0" fill="none" stroke="#000" stroke-width="2.0" stroke-linejoin="round"/>
<path d="M3454.0 700.0 v-9.0 M3463.0 700.0 v-19.0 M3472.0 700.0 v-11.0" fill="none" stroke="#000" stroke-width="2.0" stroke-linejoin="round"/>
<path d="M3811.0 680.0 v-9.0 M3820.0 680.0 v-19.0 M3829.0 680.0 v-11.0" fill="none" stroke="#000" stroke-width="2.0" stroke-linejoin="round"/>
<path d="M3303.0 1190.0 v-9.0 M3312.0 1190.0 v-19.0 M3321.0 1190.0 v-11.0" fill="none" stroke="#000" stroke-width="2.0" stroke-linejoin="round"/>
<path d="M3747.9 1155.0 v-8.1 M3756.0 1155.0 v-17.1 M3764.1 1155.0 v-9.9" fill="none" stroke="#000" stroke-width="2.0" stroke-linejoin="round"/>
<rect x="876.0" y="716.0" width="88.0" height="28.0" fill="#fff" transform="rotate(0.0 920.0 730.0)"/>
<circle cx="869.0" cy="729.9" r="2.8" fill="#000" stroke="#000" stroke-width="0"/>
<text transform="translate(882.0 740.0) scale(0.930 1)" font-family="Liberation Sans" font-size="28.0" font-weight="normal" text-anchor="start" letter-spacing="0" stroke="#000" stroke-width="0.45">1009.2</text>
<rect x="996.0" y="837.0" width="82.0" height="19.0" fill="#fff" transform="rotate(0.0 1037.0 846.5)"/>
<text transform="translate(996.5 855.5) scale(0.985 1)" font-family="Liberation Sans" font-size="27.5" font-weight="normal" text-anchor="start" letter-spacing="0" stroke="#000" stroke-width="0.45">998.98</text>
<circle cx="1760.0" cy="740.6" r="2.8" fill="#000" stroke="#000" stroke-width="0"/>
<text transform="translate(1767.0 750.0) scale(1.100 1)" font-family="Liberation Sans" font-size="26.0" font-weight="normal" text-anchor="start" letter-spacing="0" stroke="#000" stroke-width="0.45">996.9</text>
<circle cx="3203.0" cy="1088.1" r="2.8" fill="#000" stroke="#000" stroke-width="0"/>
<text transform="translate(3210.0 1097.5) scale(1.100 1)" font-family="Liberation Sans" font-size="26.0" font-weight="normal" text-anchor="start" letter-spacing="0" stroke="#000" stroke-width="0.45">992.8</text>
<text transform="translate(566.5 966.5) scale(0.970 1)" font-family="Liberation Sans" font-size="27.0" font-weight="normal" text-anchor="start" letter-spacing="0" stroke="#000" stroke-width="0.45">1000.4</text>
<rect x="1016.0" y="1126.0" width="74.0" height="22.0" fill="#fff" transform="rotate(0.0 1053.0 1137.0)"/>
<text transform="translate(1017.0 1147.5) scale(1.100 1)" font-family="Liberation Sans" font-size="26.0" font-weight="normal" text-anchor="start" letter-spacing="0" stroke="#000" stroke-width="0.45">996.4</text>
<rect x="1573.0" y="577.0" width="62.0" height="23.0" fill="#fff" transform="rotate(-4.0 1604.0 588.5)"/>
<text transform="translate(1576.0 600.5) rotate(-5.0) skewX(-20.0) scale(0.930 1)" font-family="Liberation Sans" font-size="29.0" font-weight="normal" text-anchor="start" letter-spacing="0" stroke="#000" stroke-width="0.50">1010</text>
<rect x="1575.0" y="650.0" width="64.0" height="23.0" fill="#fff" transform="rotate(-5.0 1607.0 661.5)"/>
<text transform="translate(1577.0 674.5) rotate(-6.0) skewX(-20.0) scale(0.930 1)" font-family="Liberation Sans" font-size="29.0" font-weight="normal" text-anchor="start" letter-spacing="0" stroke="#000" stroke-width="0.50">1005</text>
<rect x="1580.0" y="709.0" width="64.0" height="25.0" fill="#fff" transform="rotate(-9.0 1612.0 721.5)"/>
<text transform="translate(1582.0 738.0) rotate(-10.0) skewX(-20.0) scale(0.930 1)" font-family="Liberation Sans" font-size="29.0" font-weight="normal" text-anchor="start" letter-spacing="0" stroke="#000" stroke-width="0.50">1000</text>
<text transform="translate(2488.0 826.0) scale(1.250 1)" font-family="Liberation Sans" font-size="22.0" font-weight="normal" text-anchor="start" letter-spacing="2">21</text>
<path d="M2491.0 836.0L2508.0 836.0L2499.5 852.0Z" fill="none" stroke="#000" stroke-width="2.0" stroke-linejoin="round"/>
<path d="M2761.0 538.0C2761.2 543.3 2761.3 558.4 2762.0 570.0C2762.7 581.6 2764.2 595.0 2765.0 607.5C2765.8 620.0 2766.2 632.5 2767.0 645.0C2767.8 657.5 2768.7 670.0 2770.0 682.5C2771.3 695.0 2773.7 710.2 2775.0 720.0C2776.3 729.8 2777.5 737.5 2778.0 741.0" fill="none" stroke="#000" stroke-width="4.2" stroke-dasharray="0.1 11" stroke-linecap="round" stroke-linejoin="round"/>
<path d="M2785.0 538.0C2782.5 545.4 2774.7 567.6 2770.0 582.5C2765.3 597.4 2759.7 614.6 2757.0 627.5C2754.3 640.4 2756.0 649.6 2754.0 660.0C2752.0 670.4 2749.8 680.8 2745.0 690.0C2740.2 699.2 2732.2 707.9 2725.0 715.0C2717.8 722.1 2705.8 729.6 2702.0 732.5" fill="none" stroke="#000" stroke-width="1.8" stroke-linejoin="round"/>
<path d="M3157.0 1037.0C3156.2 1044.2 3152.3 1064.5 3152.0 1080.0C3151.7 1095.5 3154.5 1111.7 3155.0 1130.0C3155.5 1148.3 3154.2 1173.3 3155.0 1190.0C3155.8 1206.7 3157.2 1218.3 3160.0 1230.0C3162.8 1241.7 3167.8 1250.8 3172.0 1260.0C3176.2 1269.2 3182.8 1280.8 3185.0 1285.0" fill="none" stroke="#000" stroke-width="4.2" stroke-dasharray="0.1 13.5" stroke-linecap="round" stroke-linejoin="round"/>
<path d="M2667.0 534.5C2660.0 537.5 2636.7 548.1 2625.0 552.5C2613.3 556.9 2607.0 556.8 2597.0 561.0C2587.0 565.2 2572.0 572.8 2565.0 577.5C2558.0 582.2 2555.8 585.7 2555.0 589.0C2554.2 592.3 2556.7 594.8 2560.0 597.5C2563.3 600.2 2569.7 601.7 2575.0 605.0C2580.3 608.3 2587.0 611.7 2592.0 617.5C2597.0 623.3 2601.2 631.7 2605.0 640.0C2608.8 648.3 2612.3 658.3 2615.0 667.5C2617.7 676.7 2620.3 686.7 2621.0 695.0C2621.7 703.3 2620.5 712.1 2619.0 717.5C2617.5 722.9 2613.2 725.8 2612.0 727.5" fill="none" stroke="#000" stroke-width="3.6" stroke-linecap="round" stroke-linejoin="round"/>
<path d="M2603.8 738.8C2604.1 741.5 2603.3 749.4 2606.0 755.0C2608.7 760.6 2617.7 767.5 2620.0 772.5C2622.3 777.5 2623.3 779.6 2620.0 785.0C2616.7 790.4 2609.7 798.8 2600.0 805.0C2590.3 811.2 2574.5 817.7 2562.0 822.5C2549.5 827.3 2531.2 831.9 2525.0 833.8" fill="none" stroke="#000" stroke-width="3.6" stroke-linecap="round" stroke-linejoin="round"/>
<path d="M2671.0 745.0C2670.8 747.1 2667.7 752.9 2670.0 757.5C2672.3 762.1 2680.7 766.7 2685.0 772.5C2689.3 778.3 2694.3 785.4 2696.0 792.5C2697.7 799.6 2696.8 807.9 2695.0 815.0C2693.2 822.1 2686.7 831.7 2685.0 835.0" fill="none" stroke="#000" stroke-width="1.8" stroke-linejoin="round"/>
<path d="M2286.0 675.0C2287.3 677.1 2290.8 684.6 2294.0 687.5C2297.2 690.4 2299.8 693.2 2305.0 692.5C2310.2 691.8 2316.3 686.4 2325.0 683.0C2333.7 679.6 2344.5 672.5 2357.0 672.0C2369.5 671.5 2376.2 674.1 2400.0 680.0C2423.8 685.9 2466.7 699.6 2500.0 707.5C2533.3 715.4 2575.8 723.0 2600.0 727.5C2624.2 732.0 2630.5 733.9 2645.0 734.5C2659.5 735.1 2673.7 730.8 2687.0 731.0C2700.3 731.2 2697.8 731.6 2725.0 736.0C2752.2 740.4 2824.2 754.3 2850.0 757.5C2875.8 760.7 2870.8 754.6 2880.0 755.0C2889.2 755.4 2896.4 755.8 2905.0 760.0C2913.6 764.2 2924.5 772.2 2931.7 780.0C2938.9 787.8 2942.5 798.4 2948.3 806.7C2954.1 815.0 2960.3 823.6 2966.7 830.0C2973.1 836.4 2980.3 841.5 2986.7 845.0C2993.1 848.5 3001.9 849.8 3005.0 850.8" fill="none" stroke="#000" stroke-width="2.4" stroke-linejoin="round"/>
<path d="M2279.0 677.0C2280.2 679.2 2282.8 686.4 2286.0 690.0C2289.2 693.6 2292.7 697.3 2298.0 698.5C2303.3 699.7 2311.5 698.8 2318.0 697.0C2324.5 695.2 2328.3 690.4 2337.0 688.0C2345.7 685.6 2358.7 682.2 2370.0 682.5C2381.3 682.8 2393.8 686.7 2405.0 690.0C2416.2 693.3 2421.2 697.9 2437.0 702.5C2452.8 707.1 2477.0 712.1 2500.0 717.5C2523.0 722.9 2554.2 730.8 2575.0 735.0C2595.8 739.2 2609.2 740.8 2625.0 742.5C2640.8 744.2 2657.5 743.4 2670.0 745.0C2682.5 746.6 2691.4 749.5 2700.0 752.0C2708.6 754.5 2713.9 757.4 2721.7 760.0C2729.5 762.6 2736.7 766.2 2746.7 767.5C2756.7 768.8 2769.0 766.2 2781.7 767.5C2794.4 768.8 2807.8 772.1 2823.0 775.0C2838.2 777.9 2860.5 782.0 2873.0 785.0C2885.5 788.0 2889.7 788.8 2898.0 793.0C2906.3 797.2 2916.0 804.4 2923.0 810.0C2930.0 815.6 2934.4 821.2 2940.0 826.7C2945.6 832.2 2952.0 838.7 2956.7 843.0C2961.4 847.3 2962.4 849.4 2968.0 852.5C2973.6 855.6 2986.3 860.2 2990.0 861.7" fill="none" stroke="#000" stroke-width="2.4" stroke-linejoin="round"/>
<path d="M2115.0 720.0C2119.2 723.3 2133.5 732.5 2140.0 740.0C2146.5 747.5 2151.2 756.7 2153.8 765.0C2156.2 773.3 2155.8 782.9 2155.0 790.0C2154.2 797.1 2149.8 804.6 2148.8 807.5" fill="none" stroke="#000" stroke-width="1.8" stroke-linejoin="round"/>
<path d="M3678.0 546.2L3692.5 685.2L3712.3 687.4L3718.7 679.8L3691.6 543.5" fill="none" stroke="#000" stroke-width="2.2" stroke-linejoin="round"/>
<path d="M3682.6 547.0L3698.0 674.0" fill="none" stroke="#000" stroke-width="1.8" stroke-linejoin="round"/>
<path d="M3687.0 547.0L3703.3 672.6" fill="none" stroke="#000" stroke-width="1.8" stroke-linejoin="round"/>
<path d="M3693.0 560.0L3712.0 676.0" fill="none" stroke="#000" stroke-width="2.6" stroke-dasharray="26 10 40 14 22 9" stroke-linejoin="round"/>
<path d="M3680.0 580.0L3693.0 682.0" fill="none" stroke="#000" stroke-width="2.8" stroke-dasharray="0 40 50 200" stroke-linejoin="round"/>
<path d="M3692.5 685.2L3703.3 677.0L3718.7 680.5" fill="none" stroke="#000" stroke-width="1.8" stroke-linejoin="round"/>
<path d="M3702.4 690.0L3722.3 860.0" fill="none" stroke="#000" stroke-width="1.8" stroke-dasharray="15 6" stroke-linejoin="round"/>
<path d="M3707.3 690.0L3727.2 860.0" fill="none" stroke="#000" stroke-width="1.8" stroke-dasharray="15 6" stroke-linejoin="round"/>
</svg>
</body></html>
